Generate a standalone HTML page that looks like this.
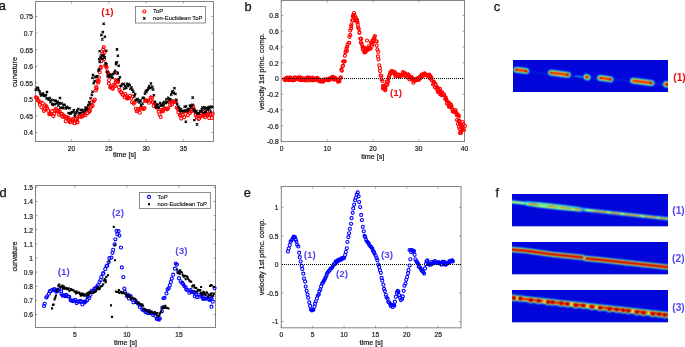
<!DOCTYPE html><html><head><meta charset="utf-8"><style>html,body{margin:0;padding:0;background:#fff;overflow:hidden;}svg{display:block;will-change:transform;}</style></head><body><svg width="685" height="347" viewBox="0 0 685 347">
<defs><filter id="bl" x="-20%" y="-50%" width="140%" height="200%" color-interpolation-filters="sRGB"><feConvolveMatrix order="3" kernelMatrix="1 2 1 2 4 2 1 2 1" divisor="16" edgeMode="duplicate"/></filter><filter id="bl2" x="-20%" y="-50%" width="140%" height="200%"><feGaussianBlur stdDeviation="1.0"/></filter><filter id="bl3" x="-20%" y="-50%" width="140%" height="200%"><feGaussianBlur stdDeviation="0.45"/></filter></defs>
<rect width="685" height="347" fill="#fff"/>
<text x="-1.3" y="10.0" font-size="12.8" fill="#111" stroke="#111" stroke-width="0.25" font-family="&quot;Liberation Sans&quot;, sans-serif">a</text>
<text x="244.4" y="10.6" font-size="12.8" fill="#111" stroke="#111" stroke-width="0.25" font-family="&quot;Liberation Sans&quot;, sans-serif">b</text>
<text x="493.7" y="10.7" font-size="12.8" fill="#111" stroke="#111" stroke-width="0.25" font-family="&quot;Liberation Sans&quot;, sans-serif">c</text>
<text x="-0.6" y="196.9" font-size="12.8" fill="#111" stroke="#111" stroke-width="0.25" font-family="&quot;Liberation Sans&quot;, sans-serif">d</text>
<text x="243.7" y="197.0" font-size="12.8" fill="#111" stroke="#111" stroke-width="0.25" font-family="&quot;Liberation Sans&quot;, sans-serif">e</text>
<text x="495.6" y="196.8" font-size="12.8" fill="#111" stroke="#111" stroke-width="0.25" font-family="&quot;Liberation Sans&quot;, sans-serif">f</text>
<rect x="35.5" y="1.5" width="178.0" height="140.0" fill="none" stroke="#848484" stroke-width="1.0"/>
<line x1="71.5" y1="141.5" x2="71.5" y2="139.5" stroke="#777" stroke-width="0.7"/>
<line x1="71.5" y1="1.5" x2="71.5" y2="3.5" stroke="#777" stroke-width="0.7"/>
<text transform="translate(71.5,150.9) scale(0.09514,0.10571)" font-size="70" text-anchor="middle" fill="#1a1a1a" stroke="#1a1a1a" stroke-width="2.08" font-family="&quot;Liberation Sans&quot;, sans-serif">20</text>
<line x1="108.8" y1="141.5" x2="108.8" y2="139.5" stroke="#777" stroke-width="0.7"/>
<line x1="108.8" y1="1.5" x2="108.8" y2="3.5" stroke="#777" stroke-width="0.7"/>
<text transform="translate(108.8,150.9) scale(0.09514,0.10571)" font-size="70" text-anchor="middle" fill="#1a1a1a" stroke="#1a1a1a" stroke-width="2.08" font-family="&quot;Liberation Sans&quot;, sans-serif">25</text>
<line x1="146.1" y1="141.5" x2="146.1" y2="139.5" stroke="#777" stroke-width="0.7"/>
<line x1="146.1" y1="1.5" x2="146.1" y2="3.5" stroke="#777" stroke-width="0.7"/>
<text transform="translate(146.1,150.9) scale(0.09514,0.10571)" font-size="70" text-anchor="middle" fill="#1a1a1a" stroke="#1a1a1a" stroke-width="2.08" font-family="&quot;Liberation Sans&quot;, sans-serif">30</text>
<line x1="183.4" y1="141.5" x2="183.4" y2="139.5" stroke="#777" stroke-width="0.7"/>
<line x1="183.4" y1="1.5" x2="183.4" y2="3.5" stroke="#777" stroke-width="0.7"/>
<text transform="translate(183.4,150.9) scale(0.09514,0.10571)" font-size="70" text-anchor="middle" fill="#1a1a1a" stroke="#1a1a1a" stroke-width="2.08" font-family="&quot;Liberation Sans&quot;, sans-serif">35</text>
<line x1="35.5" y1="132.48999999999998" x2="37.5" y2="132.48999999999998" stroke="#777" stroke-width="0.7"/>
<line x1="213.5" y1="132.48999999999998" x2="211.5" y2="132.48999999999998" stroke="#777" stroke-width="0.7"/>
<text transform="translate(33.0,135.43999999999997) scale(0.09514,0.10571)" font-size="70" text-anchor="end" fill="#1a1a1a" stroke="#1a1a1a" stroke-width="2.08" font-family="&quot;Liberation Sans&quot;, sans-serif">0.4</text>
<line x1="35.5" y1="115.91999999999999" x2="37.5" y2="115.91999999999999" stroke="#777" stroke-width="0.7"/>
<line x1="213.5" y1="115.91999999999999" x2="211.5" y2="115.91999999999999" stroke="#777" stroke-width="0.7"/>
<text transform="translate(33.0,118.86999999999999) scale(0.09514,0.10571)" font-size="70" text-anchor="end" fill="#1a1a1a" stroke="#1a1a1a" stroke-width="2.08" font-family="&quot;Liberation Sans&quot;, sans-serif">0.45</text>
<line x1="35.5" y1="99.35" x2="37.5" y2="99.35" stroke="#777" stroke-width="0.7"/>
<line x1="213.5" y1="99.35" x2="211.5" y2="99.35" stroke="#777" stroke-width="0.7"/>
<text transform="translate(33.0,102.3) scale(0.09514,0.10571)" font-size="70" text-anchor="end" fill="#1a1a1a" stroke="#1a1a1a" stroke-width="2.08" font-family="&quot;Liberation Sans&quot;, sans-serif">0.5</text>
<line x1="35.5" y1="82.77999999999999" x2="37.5" y2="82.77999999999999" stroke="#777" stroke-width="0.7"/>
<line x1="213.5" y1="82.77999999999999" x2="211.5" y2="82.77999999999999" stroke="#777" stroke-width="0.7"/>
<text transform="translate(33.0,85.72999999999999) scale(0.09514,0.10571)" font-size="70" text-anchor="end" fill="#1a1a1a" stroke="#1a1a1a" stroke-width="2.08" font-family="&quot;Liberation Sans&quot;, sans-serif">0.55</text>
<line x1="35.5" y1="66.21000000000001" x2="37.5" y2="66.21000000000001" stroke="#777" stroke-width="0.7"/>
<line x1="213.5" y1="66.21000000000001" x2="211.5" y2="66.21000000000001" stroke="#777" stroke-width="0.7"/>
<text transform="translate(33.0,69.16000000000001) scale(0.09514,0.10571)" font-size="70" text-anchor="end" fill="#1a1a1a" stroke="#1a1a1a" stroke-width="2.08" font-family="&quot;Liberation Sans&quot;, sans-serif">0.6</text>
<line x1="35.5" y1="49.63999999999999" x2="37.5" y2="49.63999999999999" stroke="#777" stroke-width="0.7"/>
<line x1="213.5" y1="49.63999999999999" x2="211.5" y2="49.63999999999999" stroke="#777" stroke-width="0.7"/>
<text transform="translate(33.0,52.589999999999996) scale(0.09514,0.10571)" font-size="70" text-anchor="end" fill="#1a1a1a" stroke="#1a1a1a" stroke-width="2.08" font-family="&quot;Liberation Sans&quot;, sans-serif">0.65</text>
<line x1="35.5" y1="33.070000000000014" x2="37.5" y2="33.070000000000014" stroke="#777" stroke-width="0.7"/>
<line x1="213.5" y1="33.070000000000014" x2="211.5" y2="33.070000000000014" stroke="#777" stroke-width="0.7"/>
<text transform="translate(33.0,36.02000000000002) scale(0.09514,0.10571)" font-size="70" text-anchor="end" fill="#1a1a1a" stroke="#1a1a1a" stroke-width="2.08" font-family="&quot;Liberation Sans&quot;, sans-serif">0.7</text>
<line x1="35.5" y1="16.5" x2="37.5" y2="16.5" stroke="#777" stroke-width="0.7"/>
<line x1="213.5" y1="16.5" x2="211.5" y2="16.5" stroke="#777" stroke-width="0.7"/>
<text transform="translate(33.0,19.45) scale(0.09514,0.10571)" font-size="70" text-anchor="end" fill="#1a1a1a" stroke="#1a1a1a" stroke-width="2.08" font-family="&quot;Liberation Sans&quot;, sans-serif">0.75</text>
<text x="124.5" y="157.0" font-size="7.2" text-anchor="middle" fill="#1a1a1a" stroke="#1a1a1a" stroke-width="0.22" font-family="&quot;Liberation Sans&quot;, sans-serif">time [s]</text>
<text transform="translate(16.9,72.0) rotate(-90)" x="0" y="0" font-size="7.2" text-anchor="middle" fill="#1a1a1a" stroke="#1a1a1a" stroke-width="0.22" font-family="&quot;Liberation Sans&quot;, sans-serif">curvature</text>
<path d="M34.42,97.43a1.55,1.55 0 1,0 3.1,0a1.55,1.55 0 1,0 -3.1,0M35.65,98.11a1.55,1.55 0 1,0 3.1,0a1.55,1.55 0 1,0 -3.1,0M36.35,100.34a1.55,1.55 0 1,0 3.1,0a1.55,1.55 0 1,0 -3.1,0M37.11,101.16a1.55,1.55 0 1,0 3.1,0a1.55,1.55 0 1,0 -3.1,0M38.33,104.54a1.55,1.55 0 1,0 3.1,0a1.55,1.55 0 1,0 -3.1,0M38.96,102.37a1.55,1.55 0 1,0 3.1,0a1.55,1.55 0 1,0 -3.1,0M39.90,107.37a1.55,1.55 0 1,0 3.1,0a1.55,1.55 0 1,0 -3.1,0M41.22,103.20a1.55,1.55 0 1,0 3.1,0a1.55,1.55 0 1,0 -3.1,0M42.34,110.80a1.55,1.55 0 1,0 3.1,0a1.55,1.55 0 1,0 -3.1,0M43.09,108.99a1.55,1.55 0 1,0 3.1,0a1.55,1.55 0 1,0 -3.1,0M43.74,105.38a1.55,1.55 0 1,0 3.1,0a1.55,1.55 0 1,0 -3.1,0M44.92,106.42a1.55,1.55 0 1,0 3.1,0a1.55,1.55 0 1,0 -3.1,0M45.66,108.44a1.55,1.55 0 1,0 3.1,0a1.55,1.55 0 1,0 -3.1,0M46.52,110.75a1.55,1.55 0 1,0 3.1,0a1.55,1.55 0 1,0 -3.1,0M47.71,114.19a1.55,1.55 0 1,0 3.1,0a1.55,1.55 0 1,0 -3.1,0M48.71,113.45a1.55,1.55 0 1,0 3.1,0a1.55,1.55 0 1,0 -3.1,0M49.65,114.13a1.55,1.55 0 1,0 3.1,0a1.55,1.55 0 1,0 -3.1,0M50.57,111.16a1.55,1.55 0 1,0 3.1,0a1.55,1.55 0 1,0 -3.1,0M51.85,116.12a1.55,1.55 0 1,0 3.1,0a1.55,1.55 0 1,0 -3.1,0M52.70,113.84a1.55,1.55 0 1,0 3.1,0a1.55,1.55 0 1,0 -3.1,0M53.34,110.20a1.55,1.55 0 1,0 3.1,0a1.55,1.55 0 1,0 -3.1,0M54.27,108.84a1.55,1.55 0 1,0 3.1,0a1.55,1.55 0 1,0 -3.1,0M55.51,111.02a1.55,1.55 0 1,0 3.1,0a1.55,1.55 0 1,0 -3.1,0M56.51,110.72a1.55,1.55 0 1,0 3.1,0a1.55,1.55 0 1,0 -3.1,0M57.52,114.70a1.55,1.55 0 1,0 3.1,0a1.55,1.55 0 1,0 -3.1,0M57.90,110.94a1.55,1.55 0 1,0 3.1,0a1.55,1.55 0 1,0 -3.1,0M59.40,113.65a1.55,1.55 0 1,0 3.1,0a1.55,1.55 0 1,0 -3.1,0M60.39,113.96a1.55,1.55 0 1,0 3.1,0a1.55,1.55 0 1,0 -3.1,0M60.79,116.68a1.55,1.55 0 1,0 3.1,0a1.55,1.55 0 1,0 -3.1,0M62.17,115.28a1.55,1.55 0 1,0 3.1,0a1.55,1.55 0 1,0 -3.1,0M62.70,116.92a1.55,1.55 0 1,0 3.1,0a1.55,1.55 0 1,0 -3.1,0M64.18,121.17a1.55,1.55 0 1,0 3.1,0a1.55,1.55 0 1,0 -3.1,0M64.62,118.22a1.55,1.55 0 1,0 3.1,0a1.55,1.55 0 1,0 -3.1,0M65.56,117.00a1.55,1.55 0 1,0 3.1,0a1.55,1.55 0 1,0 -3.1,0M66.93,117.97a1.55,1.55 0 1,0 3.1,0a1.55,1.55 0 1,0 -3.1,0M67.74,120.03a1.55,1.55 0 1,0 3.1,0a1.55,1.55 0 1,0 -3.1,0M68.46,122.19a1.55,1.55 0 1,0 3.1,0a1.55,1.55 0 1,0 -3.1,0M69.38,121.68a1.55,1.55 0 1,0 3.1,0a1.55,1.55 0 1,0 -3.1,0M70.32,120.19a1.55,1.55 0 1,0 3.1,0a1.55,1.55 0 1,0 -3.1,0M71.33,119.22a1.55,1.55 0 1,0 3.1,0a1.55,1.55 0 1,0 -3.1,0M72.73,123.18a1.55,1.55 0 1,0 3.1,0a1.55,1.55 0 1,0 -3.1,0M73.28,123.23a1.55,1.55 0 1,0 3.1,0a1.55,1.55 0 1,0 -3.1,0M74.18,119.15a1.55,1.55 0 1,0 3.1,0a1.55,1.55 0 1,0 -3.1,0M75.51,120.39a1.55,1.55 0 1,0 3.1,0a1.55,1.55 0 1,0 -3.1,0M76.01,122.35a1.55,1.55 0 1,0 3.1,0a1.55,1.55 0 1,0 -3.1,0M77.03,116.55a1.55,1.55 0 1,0 3.1,0a1.55,1.55 0 1,0 -3.1,0M78.31,116.51a1.55,1.55 0 1,0 3.1,0a1.55,1.55 0 1,0 -3.1,0M78.98,114.13a1.55,1.55 0 1,0 3.1,0a1.55,1.55 0 1,0 -3.1,0M79.80,117.00a1.55,1.55 0 1,0 3.1,0a1.55,1.55 0 1,0 -3.1,0M80.85,116.18a1.55,1.55 0 1,0 3.1,0a1.55,1.55 0 1,0 -3.1,0M81.87,114.16a1.55,1.55 0 1,0 3.1,0a1.55,1.55 0 1,0 -3.1,0M83.18,113.43a1.55,1.55 0 1,0 3.1,0a1.55,1.55 0 1,0 -3.1,0M83.89,115.24a1.55,1.55 0 1,0 3.1,0a1.55,1.55 0 1,0 -3.1,0M84.61,109.16a1.55,1.55 0 1,0 3.1,0a1.55,1.55 0 1,0 -3.1,0M86.00,112.99a1.55,1.55 0 1,0 3.1,0a1.55,1.55 0 1,0 -3.1,0M86.55,107.45a1.55,1.55 0 1,0 3.1,0a1.55,1.55 0 1,0 -3.1,0M87.79,111.67a1.55,1.55 0 1,0 3.1,0a1.55,1.55 0 1,0 -3.1,0M88.42,110.55a1.55,1.55 0 1,0 3.1,0a1.55,1.55 0 1,0 -3.1,0M89.78,106.87a1.55,1.55 0 1,0 3.1,0a1.55,1.55 0 1,0 -3.1,0M90.45,102.01a1.55,1.55 0 1,0 3.1,0a1.55,1.55 0 1,0 -3.1,0M91.17,105.66a1.55,1.55 0 1,0 3.1,0a1.55,1.55 0 1,0 -3.1,0M92.24,101.27a1.55,1.55 0 1,0 3.1,0a1.55,1.55 0 1,0 -3.1,0M93.20,99.60a1.55,1.55 0 1,0 3.1,0a1.55,1.55 0 1,0 -3.1,0M94.36,90.41a1.55,1.55 0 1,0 3.1,0a1.55,1.55 0 1,0 -3.1,0M95.06,88.39a1.55,1.55 0 1,0 3.1,0a1.55,1.55 0 1,0 -3.1,0M95.94,81.04a1.55,1.55 0 1,0 3.1,0a1.55,1.55 0 1,0 -3.1,0M97.19,81.04a1.55,1.55 0 1,0 3.1,0a1.55,1.55 0 1,0 -3.1,0M98.17,72.17a1.55,1.55 0 1,0 3.1,0a1.55,1.55 0 1,0 -3.1,0M99.30,66.87a1.55,1.55 0 1,0 3.1,0a1.55,1.55 0 1,0 -3.1,0M99.71,61.23a1.55,1.55 0 1,0 3.1,0a1.55,1.55 0 1,0 -3.1,0M100.92,53.50a1.55,1.55 0 1,0 3.1,0a1.55,1.55 0 1,0 -3.1,0M101.71,49.39a1.55,1.55 0 1,0 3.1,0a1.55,1.55 0 1,0 -3.1,0M102.89,52.75a1.55,1.55 0 1,0 3.1,0a1.55,1.55 0 1,0 -3.1,0M103.72,65.61a1.55,1.55 0 1,0 3.1,0a1.55,1.55 0 1,0 -3.1,0M105.04,67.53a1.55,1.55 0 1,0 3.1,0a1.55,1.55 0 1,0 -3.1,0M105.81,71.77a1.55,1.55 0 1,0 3.1,0a1.55,1.55 0 1,0 -3.1,0M106.43,73.10a1.55,1.55 0 1,0 3.1,0a1.55,1.55 0 1,0 -3.1,0M107.31,83.45a1.55,1.55 0 1,0 3.1,0a1.55,1.55 0 1,0 -3.1,0M108.67,87.43a1.55,1.55 0 1,0 3.1,0a1.55,1.55 0 1,0 -3.1,0M109.21,86.03a1.55,1.55 0 1,0 3.1,0a1.55,1.55 0 1,0 -3.1,0M110.44,87.66a1.55,1.55 0 1,0 3.1,0a1.55,1.55 0 1,0 -3.1,0M111.29,88.84a1.55,1.55 0 1,0 3.1,0a1.55,1.55 0 1,0 -3.1,0M112.10,84.81a1.55,1.55 0 1,0 3.1,0a1.55,1.55 0 1,0 -3.1,0M113.44,85.90a1.55,1.55 0 1,0 3.1,0a1.55,1.55 0 1,0 -3.1,0M114.39,81.83a1.55,1.55 0 1,0 3.1,0a1.55,1.55 0 1,0 -3.1,0M115.38,80.69a1.55,1.55 0 1,0 3.1,0a1.55,1.55 0 1,0 -3.1,0M116.06,81.48a1.55,1.55 0 1,0 3.1,0a1.55,1.55 0 1,0 -3.1,0M117.34,87.10a1.55,1.55 0 1,0 3.1,0a1.55,1.55 0 1,0 -3.1,0M118.00,90.19a1.55,1.55 0 1,0 3.1,0a1.55,1.55 0 1,0 -3.1,0M119.22,91.95a1.55,1.55 0 1,0 3.1,0a1.55,1.55 0 1,0 -3.1,0M120.02,92.38a1.55,1.55 0 1,0 3.1,0a1.55,1.55 0 1,0 -3.1,0M120.95,94.43a1.55,1.55 0 1,0 3.1,0a1.55,1.55 0 1,0 -3.1,0M121.60,95.07a1.55,1.55 0 1,0 3.1,0a1.55,1.55 0 1,0 -3.1,0M123.10,97.22a1.55,1.55 0 1,0 3.1,0a1.55,1.55 0 1,0 -3.1,0M123.89,94.11a1.55,1.55 0 1,0 3.1,0a1.55,1.55 0 1,0 -3.1,0M124.84,96.01a1.55,1.55 0 1,0 3.1,0a1.55,1.55 0 1,0 -3.1,0M125.61,98.41a1.55,1.55 0 1,0 3.1,0a1.55,1.55 0 1,0 -3.1,0M126.35,98.32a1.55,1.55 0 1,0 3.1,0a1.55,1.55 0 1,0 -3.1,0M127.27,97.80a1.55,1.55 0 1,0 3.1,0a1.55,1.55 0 1,0 -3.1,0M128.49,95.85a1.55,1.55 0 1,0 3.1,0a1.55,1.55 0 1,0 -3.1,0M129.57,98.48a1.55,1.55 0 1,0 3.1,0a1.55,1.55 0 1,0 -3.1,0M130.47,102.24a1.55,1.55 0 1,0 3.1,0a1.55,1.55 0 1,0 -3.1,0M131.20,96.41a1.55,1.55 0 1,0 3.1,0a1.55,1.55 0 1,0 -3.1,0M132.18,103.55a1.55,1.55 0 1,0 3.1,0a1.55,1.55 0 1,0 -3.1,0M133.07,102.42a1.55,1.55 0 1,0 3.1,0a1.55,1.55 0 1,0 -3.1,0M134.44,108.49a1.55,1.55 0 1,0 3.1,0a1.55,1.55 0 1,0 -3.1,0M135.12,111.17a1.55,1.55 0 1,0 3.1,0a1.55,1.55 0 1,0 -3.1,0M136.00,110.02a1.55,1.55 0 1,0 3.1,0a1.55,1.55 0 1,0 -3.1,0M136.87,108.80a1.55,1.55 0 1,0 3.1,0a1.55,1.55 0 1,0 -3.1,0M138.18,112.76a1.55,1.55 0 1,0 3.1,0a1.55,1.55 0 1,0 -3.1,0M139.18,108.77a1.55,1.55 0 1,0 3.1,0a1.55,1.55 0 1,0 -3.1,0M139.95,107.52a1.55,1.55 0 1,0 3.1,0a1.55,1.55 0 1,0 -3.1,0M140.63,108.05a1.55,1.55 0 1,0 3.1,0a1.55,1.55 0 1,0 -3.1,0M142.00,109.05a1.55,1.55 0 1,0 3.1,0a1.55,1.55 0 1,0 -3.1,0M142.88,108.15a1.55,1.55 0 1,0 3.1,0a1.55,1.55 0 1,0 -3.1,0M143.57,100.90a1.55,1.55 0 1,0 3.1,0a1.55,1.55 0 1,0 -3.1,0M144.62,100.27a1.55,1.55 0 1,0 3.1,0a1.55,1.55 0 1,0 -3.1,0M145.43,100.72a1.55,1.55 0 1,0 3.1,0a1.55,1.55 0 1,0 -3.1,0M146.63,100.76a1.55,1.55 0 1,0 3.1,0a1.55,1.55 0 1,0 -3.1,0M147.39,102.70a1.55,1.55 0 1,0 3.1,0a1.55,1.55 0 1,0 -3.1,0M148.74,99.94a1.55,1.55 0 1,0 3.1,0a1.55,1.55 0 1,0 -3.1,0M149.14,97.46a1.55,1.55 0 1,0 3.1,0a1.55,1.55 0 1,0 -3.1,0M150.57,98.07a1.55,1.55 0 1,0 3.1,0a1.55,1.55 0 1,0 -3.1,0M151.43,102.42a1.55,1.55 0 1,0 3.1,0a1.55,1.55 0 1,0 -3.1,0M152.14,106.02a1.55,1.55 0 1,0 3.1,0a1.55,1.55 0 1,0 -3.1,0M152.91,103.58a1.55,1.55 0 1,0 3.1,0a1.55,1.55 0 1,0 -3.1,0M154.12,104.84a1.55,1.55 0 1,0 3.1,0a1.55,1.55 0 1,0 -3.1,0M155.30,107.64a1.55,1.55 0 1,0 3.1,0a1.55,1.55 0 1,0 -3.1,0M155.83,107.54a1.55,1.55 0 1,0 3.1,0a1.55,1.55 0 1,0 -3.1,0M157.08,111.68a1.55,1.55 0 1,0 3.1,0a1.55,1.55 0 1,0 -3.1,0M158.03,114.45a1.55,1.55 0 1,0 3.1,0a1.55,1.55 0 1,0 -3.1,0M159.08,116.96a1.55,1.55 0 1,0 3.1,0a1.55,1.55 0 1,0 -3.1,0M159.96,110.79a1.55,1.55 0 1,0 3.1,0a1.55,1.55 0 1,0 -3.1,0M160.79,109.92a1.55,1.55 0 1,0 3.1,0a1.55,1.55 0 1,0 -3.1,0M161.46,111.32a1.55,1.55 0 1,0 3.1,0a1.55,1.55 0 1,0 -3.1,0M162.83,108.40a1.55,1.55 0 1,0 3.1,0a1.55,1.55 0 1,0 -3.1,0M163.51,108.52a1.55,1.55 0 1,0 3.1,0a1.55,1.55 0 1,0 -3.1,0M164.72,108.69a1.55,1.55 0 1,0 3.1,0a1.55,1.55 0 1,0 -3.1,0M165.62,109.30a1.55,1.55 0 1,0 3.1,0a1.55,1.55 0 1,0 -3.1,0M166.44,108.32a1.55,1.55 0 1,0 3.1,0a1.55,1.55 0 1,0 -3.1,0M167.69,101.89a1.55,1.55 0 1,0 3.1,0a1.55,1.55 0 1,0 -3.1,0M168.66,105.10a1.55,1.55 0 1,0 3.1,0a1.55,1.55 0 1,0 -3.1,0M169.13,101.81a1.55,1.55 0 1,0 3.1,0a1.55,1.55 0 1,0 -3.1,0M170.38,104.32a1.55,1.55 0 1,0 3.1,0a1.55,1.55 0 1,0 -3.1,0M171.18,101.16a1.55,1.55 0 1,0 3.1,0a1.55,1.55 0 1,0 -3.1,0M172.43,102.23a1.55,1.55 0 1,0 3.1,0a1.55,1.55 0 1,0 -3.1,0M173.42,101.56a1.55,1.55 0 1,0 3.1,0a1.55,1.55 0 1,0 -3.1,0M174.19,101.42a1.55,1.55 0 1,0 3.1,0a1.55,1.55 0 1,0 -3.1,0M175.18,107.56a1.55,1.55 0 1,0 3.1,0a1.55,1.55 0 1,0 -3.1,0M176.08,108.79a1.55,1.55 0 1,0 3.1,0a1.55,1.55 0 1,0 -3.1,0M176.78,112.21a1.55,1.55 0 1,0 3.1,0a1.55,1.55 0 1,0 -3.1,0M178.19,114.88a1.55,1.55 0 1,0 3.1,0a1.55,1.55 0 1,0 -3.1,0M178.87,115.65a1.55,1.55 0 1,0 3.1,0a1.55,1.55 0 1,0 -3.1,0M179.69,118.62a1.55,1.55 0 1,0 3.1,0a1.55,1.55 0 1,0 -3.1,0M180.96,114.68a1.55,1.55 0 1,0 3.1,0a1.55,1.55 0 1,0 -3.1,0M181.45,115.07a1.55,1.55 0 1,0 3.1,0a1.55,1.55 0 1,0 -3.1,0M182.68,117.16a1.55,1.55 0 1,0 3.1,0a1.55,1.55 0 1,0 -3.1,0M183.59,111.52a1.55,1.55 0 1,0 3.1,0a1.55,1.55 0 1,0 -3.1,0M184.74,111.21a1.55,1.55 0 1,0 3.1,0a1.55,1.55 0 1,0 -3.1,0M185.68,111.44a1.55,1.55 0 1,0 3.1,0a1.55,1.55 0 1,0 -3.1,0M186.35,115.31a1.55,1.55 0 1,0 3.1,0a1.55,1.55 0 1,0 -3.1,0M187.18,109.84a1.55,1.55 0 1,0 3.1,0a1.55,1.55 0 1,0 -3.1,0M188.36,112.88a1.55,1.55 0 1,0 3.1,0a1.55,1.55 0 1,0 -3.1,0M189.50,111.54a1.55,1.55 0 1,0 3.1,0a1.55,1.55 0 1,0 -3.1,0M190.52,109.48a1.55,1.55 0 1,0 3.1,0a1.55,1.55 0 1,0 -3.1,0M191.47,105.99a1.55,1.55 0 1,0 3.1,0a1.55,1.55 0 1,0 -3.1,0M191.98,108.60a1.55,1.55 0 1,0 3.1,0a1.55,1.55 0 1,0 -3.1,0M192.97,111.05a1.55,1.55 0 1,0 3.1,0a1.55,1.55 0 1,0 -3.1,0M194.13,114.91a1.55,1.55 0 1,0 3.1,0a1.55,1.55 0 1,0 -3.1,0M195.21,117.25a1.55,1.55 0 1,0 3.1,0a1.55,1.55 0 1,0 -3.1,0M195.84,115.64a1.55,1.55 0 1,0 3.1,0a1.55,1.55 0 1,0 -3.1,0M197.11,119.07a1.55,1.55 0 1,0 3.1,0a1.55,1.55 0 1,0 -3.1,0M197.67,118.47a1.55,1.55 0 1,0 3.1,0a1.55,1.55 0 1,0 -3.1,0M199.08,115.97a1.55,1.55 0 1,0 3.1,0a1.55,1.55 0 1,0 -3.1,0M199.79,113.50a1.55,1.55 0 1,0 3.1,0a1.55,1.55 0 1,0 -3.1,0M200.72,115.54a1.55,1.55 0 1,0 3.1,0a1.55,1.55 0 1,0 -3.1,0M201.71,111.97a1.55,1.55 0 1,0 3.1,0a1.55,1.55 0 1,0 -3.1,0M202.88,115.35a1.55,1.55 0 1,0 3.1,0a1.55,1.55 0 1,0 -3.1,0M203.49,117.26a1.55,1.55 0 1,0 3.1,0a1.55,1.55 0 1,0 -3.1,0M204.54,114.94a1.55,1.55 0 1,0 3.1,0a1.55,1.55 0 1,0 -3.1,0M205.56,111.87a1.55,1.55 0 1,0 3.1,0a1.55,1.55 0 1,0 -3.1,0M206.42,114.38a1.55,1.55 0 1,0 3.1,0a1.55,1.55 0 1,0 -3.1,0M207.62,118.05a1.55,1.55 0 1,0 3.1,0a1.55,1.55 0 1,0 -3.1,0M208.16,114.81a1.55,1.55 0 1,0 3.1,0a1.55,1.55 0 1,0 -3.1,0M209.03,114.52a1.55,1.55 0 1,0 3.1,0a1.55,1.55 0 1,0 -3.1,0M210.39,117.88a1.55,1.55 0 1,0 3.1,0a1.55,1.55 0 1,0 -3.1,0M211.14,113.68a1.55,1.55 0 1,0 3.1,0a1.55,1.55 0 1,0 -3.1,0M102.15,47.20a1.55,1.55 0 1,0 3.1,0a1.55,1.55 0 1,0 -3.1,0M101.65,56.70a1.55,1.55 0 1,0 3.1,0a1.55,1.55 0 1,0 -3.1,0M102.45,59.30a1.55,1.55 0 1,0 3.1,0a1.55,1.55 0 1,0 -3.1,0M99.05,68.00a1.55,1.55 0 1,0 3.1,0a1.55,1.55 0 1,0 -3.1,0M104.55,66.20a1.55,1.55 0 1,0 3.1,0a1.55,1.55 0 1,0 -3.1,0M97.25,77.50a1.55,1.55 0 1,0 3.1,0a1.55,1.55 0 1,0 -3.1,0M96.45,82.70a1.55,1.55 0 1,0 3.1,0a1.55,1.55 0 1,0 -3.1,0M94.65,87.00a1.55,1.55 0 1,0 3.1,0a1.55,1.55 0 1,0 -3.1,0M115.45,73.00a1.55,1.55 0 1,0 3.1,0a1.55,1.55 0 1,0 -3.1,0M114.45,80.00a1.55,1.55 0 1,0 3.1,0a1.55,1.55 0 1,0 -3.1,0M116.45,82.00a1.55,1.55 0 1,0 3.1,0a1.55,1.55 0 1,0 -3.1,0M106.95,75.00a1.55,1.55 0 1,0 3.1,0a1.55,1.55 0 1,0 -3.1,0M107.45,80.00a1.55,1.55 0 1,0 3.1,0a1.55,1.55 0 1,0 -3.1,0" fill="none" stroke="#ff0000" stroke-width="1.1"/>
<path d="M34.66,88.56l2.3,2.3M34.66,90.86l2.3,-2.3M36.01,86.53l2.3,2.3M36.01,88.83l2.3,-2.3M36.82,86.79l2.3,2.3M36.82,89.09l2.3,-2.3M37.37,88.91l2.3,2.3M37.37,91.21l2.3,-2.3M38.56,90.38l2.3,2.3M38.56,92.68l2.3,-2.3M39.26,92.92l2.3,2.3M39.26,95.22l2.3,-2.3M40.01,94.22l2.3,2.3M40.01,96.52l2.3,-2.3M40.92,93.52l2.3,2.3M40.92,95.82l2.3,-2.3M41.90,92.28l2.3,2.3M41.90,94.58l2.3,-2.3M42.97,94.34l2.3,2.3M42.97,96.64l2.3,-2.3M43.78,94.83l2.3,2.3M43.78,97.13l2.3,-2.3M44.77,93.94l2.3,2.3M44.77,96.24l2.3,-2.3M45.47,97.40l2.3,2.3M45.47,99.70l2.3,-2.3M46.63,97.42l2.3,2.3M46.63,99.72l2.3,-2.3M47.66,98.54l2.3,2.3M47.66,100.84l2.3,-2.3M48.56,96.90l2.3,2.3M48.56,99.20l2.3,-2.3M49.39,100.95l2.3,2.3M49.39,103.25l2.3,-2.3M50.39,98.53l2.3,2.3M50.39,100.83l2.3,-2.3M50.94,102.71l2.3,2.3M50.94,105.01l2.3,-2.3M51.78,103.70l2.3,2.3M51.78,106.00l2.3,-2.3M53.08,99.05l2.3,2.3M53.08,101.35l2.3,-2.3M53.59,103.15l2.3,2.3M53.59,105.45l2.3,-2.3M54.51,99.75l2.3,2.3M54.51,102.05l2.3,-2.3M55.75,102.06l2.3,2.3M55.75,104.36l2.3,-2.3M56.62,100.65l2.3,2.3M56.62,102.95l2.3,-2.3M57.29,104.36l2.3,2.3M57.29,106.66l2.3,-2.3M57.96,101.82l2.3,2.3M57.96,104.12l2.3,-2.3M59.26,106.50l2.3,2.3M59.26,108.80l2.3,-2.3M60.33,102.26l2.3,2.3M60.33,104.56l2.3,-2.3M60.95,106.66l2.3,2.3M60.95,108.96l2.3,-2.3M61.85,106.76l2.3,2.3M61.85,109.06l2.3,-2.3M62.56,103.61l2.3,2.3M62.56,105.91l2.3,-2.3M63.41,103.95l2.3,2.3M63.41,106.25l2.3,-2.3M64.58,107.36l2.3,2.3M64.58,109.66l2.3,-2.3M65.49,105.69l2.3,2.3M65.49,107.99l2.3,-2.3M66.16,106.57l2.3,2.3M66.16,108.87l2.3,-2.3M67.45,111.83l2.3,2.3M67.45,114.13l2.3,-2.3M68.41,107.00l2.3,2.3M68.41,109.30l2.3,-2.3M68.79,112.68l2.3,2.3M68.79,114.98l2.3,-2.3M69.93,112.10l2.3,2.3M69.93,114.40l2.3,-2.3M70.75,110.85l2.3,2.3M70.75,113.15l2.3,-2.3M71.76,111.17l2.3,2.3M71.76,113.47l2.3,-2.3M72.71,109.21l2.3,2.3M72.71,111.51l2.3,-2.3M73.67,114.74l2.3,2.3M73.67,117.04l2.3,-2.3M74.26,112.21l2.3,2.3M74.26,114.51l2.3,-2.3M75.49,111.38l2.3,2.3M75.49,113.68l2.3,-2.3M76.07,109.40l2.3,2.3M76.07,111.70l2.3,-2.3M77.16,107.96l2.3,2.3M77.16,110.26l2.3,-2.3M78.29,112.14l2.3,2.3M78.29,114.44l2.3,-2.3M79.07,111.96l2.3,2.3M79.07,114.26l2.3,-2.3M79.93,108.78l2.3,2.3M79.93,111.08l2.3,-2.3M80.81,108.93l2.3,2.3M80.81,111.23l2.3,-2.3M81.94,110.28l2.3,2.3M81.94,112.58l2.3,-2.3M82.40,110.47l2.3,2.3M82.40,112.77l2.3,-2.3M83.60,109.22l2.3,2.3M83.60,111.52l2.3,-2.3M84.54,106.33l2.3,2.3M84.54,108.63l2.3,-2.3M85.49,108.37l2.3,2.3M85.49,110.67l2.3,-2.3M86.27,106.88l2.3,2.3M86.27,109.18l2.3,-2.3M87.21,103.90l2.3,2.3M87.21,106.20l2.3,-2.3M88.08,101.08l2.3,2.3M88.08,103.38l2.3,-2.3M88.76,102.66l2.3,2.3M88.76,104.96l2.3,-2.3M89.46,97.03l2.3,2.3M89.46,99.33l2.3,-2.3M90.73,93.69l2.3,2.3M90.73,95.99l2.3,-2.3M91.39,90.67l2.3,2.3M91.39,92.97l2.3,-2.3M92.55,82.08l2.3,2.3M92.55,84.38l2.3,-2.3M93.45,79.77l2.3,2.3M93.45,82.07l2.3,-2.3M94.27,75.99l2.3,2.3M94.27,78.29l2.3,-2.3M95.45,75.40l2.3,2.3M95.45,77.70l2.3,-2.3M96.17,75.22l2.3,2.3M96.17,77.52l2.3,-2.3M97.24,69.39l2.3,2.3M97.24,71.69l2.3,-2.3M97.92,68.28l2.3,2.3M97.92,70.58l2.3,-2.3M98.60,60.86l2.3,2.3M98.60,63.16l2.3,-2.3M99.38,57.02l2.3,2.3M99.38,59.32l2.3,-2.3M100.48,54.19l2.3,2.3M100.48,56.49l2.3,-2.3M101.30,57.68l2.3,2.3M101.30,59.98l2.3,-2.3M102.38,54.40l2.3,2.3M102.38,56.70l2.3,-2.3M103.53,56.46l2.3,2.3M103.53,58.76l2.3,-2.3M104.45,61.83l2.3,2.3M104.45,64.13l2.3,-2.3M105.24,63.11l2.3,2.3M105.24,65.41l2.3,-2.3M106.01,70.81l2.3,2.3M106.01,73.11l2.3,-2.3M106.58,75.43l2.3,2.3M106.58,77.73l2.3,-2.3M107.55,74.03l2.3,2.3M107.55,76.33l2.3,-2.3M108.45,75.52l2.3,2.3M108.45,77.82l2.3,-2.3M109.62,73.33l2.3,2.3M109.62,75.63l2.3,-2.3M110.72,75.67l2.3,2.3M110.72,77.97l2.3,-2.3M111.37,76.90l2.3,2.3M111.37,79.20l2.3,-2.3M112.17,72.78l2.3,2.3M112.17,75.08l2.3,-2.3M113.24,71.50l2.3,2.3M113.24,73.80l2.3,-2.3M113.92,69.65l2.3,2.3M113.92,71.95l2.3,-2.3M114.83,63.18l2.3,2.3M114.83,65.48l2.3,-2.3M115.70,61.11l2.3,2.3M115.70,63.41l2.3,-2.3M116.54,71.98l2.3,2.3M116.54,74.28l2.3,-2.3M117.58,78.24l2.3,2.3M117.58,80.54l2.3,-2.3M118.70,76.17l2.3,2.3M118.70,78.47l2.3,-2.3M119.74,84.31l2.3,2.3M119.74,86.61l2.3,-2.3M120.09,84.93l2.3,2.3M120.09,87.23l2.3,-2.3M121.21,83.21l2.3,2.3M121.21,85.51l2.3,-2.3M122.43,82.65l2.3,2.3M122.43,84.95l2.3,-2.3M123.06,87.47l2.3,2.3M123.06,89.77l2.3,-2.3M124.08,84.66l2.3,2.3M124.08,86.96l2.3,-2.3M125.14,86.75l2.3,2.3M125.14,89.05l2.3,-2.3M125.81,82.54l2.3,2.3M125.81,84.84l2.3,-2.3M126.72,84.81l2.3,2.3M126.72,87.11l2.3,-2.3M127.37,82.88l2.3,2.3M127.37,85.18l2.3,-2.3M128.47,83.82l2.3,2.3M128.47,86.12l2.3,-2.3M129.32,87.58l2.3,2.3M129.32,89.88l2.3,-2.3M130.22,86.09l2.3,2.3M130.22,88.39l2.3,-2.3M131.20,88.53l2.3,2.3M131.20,90.83l2.3,-2.3M132.22,90.70l2.3,2.3M132.22,93.00l2.3,-2.3M133.25,95.12l2.3,2.3M133.25,97.42l2.3,-2.3M133.99,92.84l2.3,2.3M133.99,95.14l2.3,-2.3M134.52,98.76l2.3,2.3M134.52,101.06l2.3,-2.3M135.82,99.16l2.3,2.3M135.82,101.46l2.3,-2.3M136.47,97.93l2.3,2.3M136.47,100.23l2.3,-2.3M137.56,100.28l2.3,2.3M137.56,102.58l2.3,-2.3M138.41,101.27l2.3,2.3M138.41,103.57l2.3,-2.3M139.40,99.20l2.3,2.3M139.40,101.50l2.3,-2.3M140.00,104.02l2.3,2.3M140.00,106.32l2.3,-2.3M141.30,102.47l2.3,2.3M141.30,104.77l2.3,-2.3M141.67,96.63l2.3,2.3M141.67,98.93l2.3,-2.3M142.71,96.97l2.3,2.3M142.71,99.27l2.3,-2.3M143.82,92.46l2.3,2.3M143.82,94.76l2.3,-2.3M144.67,89.71l2.3,2.3M144.67,92.01l2.3,-2.3M145.30,90.76l2.3,2.3M145.30,93.06l2.3,-2.3M146.48,88.93l2.3,2.3M146.48,91.23l2.3,-2.3M147.27,86.96l2.3,2.3M147.27,89.26l2.3,-2.3M148.08,85.09l2.3,2.3M148.08,87.39l2.3,-2.3M149.30,87.00l2.3,2.3M149.30,89.30l2.3,-2.3M149.79,82.32l2.3,2.3M149.79,84.62l2.3,-2.3M151.14,85.66l2.3,2.3M151.14,87.96l2.3,-2.3M152.01,88.30l2.3,2.3M152.01,90.60l2.3,-2.3M152.70,94.07l2.3,2.3M152.70,96.37l2.3,-2.3M153.84,100.73l2.3,2.3M153.84,103.03l2.3,-2.3M154.64,106.09l2.3,2.3M154.64,108.39l2.3,-2.3M155.35,103.84l2.3,2.3M155.35,106.14l2.3,-2.3M156.50,106.41l2.3,2.3M156.50,108.71l2.3,-2.3M157.21,103.28l2.3,2.3M157.21,105.58l2.3,-2.3M157.91,106.49l2.3,2.3M157.91,108.79l2.3,-2.3M158.80,101.91l2.3,2.3M158.80,104.21l2.3,-2.3M159.99,104.49l2.3,2.3M159.99,106.79l2.3,-2.3M160.96,103.55l2.3,2.3M160.96,105.85l2.3,-2.3M161.92,101.77l2.3,2.3M161.92,104.07l2.3,-2.3M162.48,104.09l2.3,2.3M162.48,106.39l2.3,-2.3M163.30,100.74l2.3,2.3M163.30,103.04l2.3,-2.3M164.58,101.95l2.3,2.3M164.58,104.25l2.3,-2.3M165.22,98.04l2.3,2.3M165.22,100.34l2.3,-2.3M166.16,100.94l2.3,2.3M166.16,103.24l2.3,-2.3M167.07,96.69l2.3,2.3M167.07,98.99l2.3,-2.3M168.18,97.87l2.3,2.3M168.18,100.17l2.3,-2.3M169.20,98.29l2.3,2.3M169.20,100.59l2.3,-2.3M170.10,93.48l2.3,2.3M170.10,95.78l2.3,-2.3M170.93,91.18l2.3,2.3M170.93,93.48l2.3,-2.3M171.54,90.25l2.3,2.3M171.54,92.55l2.3,-2.3M172.81,91.72l2.3,2.3M172.81,94.02l2.3,-2.3M173.30,87.02l2.3,2.3M173.30,89.32l2.3,-2.3M174.27,92.85l2.3,2.3M174.27,95.15l2.3,-2.3M175.19,98.53l2.3,2.3M175.19,100.83l2.3,-2.3M175.97,102.76l2.3,2.3M175.97,105.06l2.3,-2.3M177.23,105.41l2.3,2.3M177.23,107.71l2.3,-2.3M178.15,106.96l2.3,2.3M178.15,109.26l2.3,-2.3M178.66,109.55l2.3,2.3M178.66,111.85l2.3,-2.3M179.98,108.10l2.3,2.3M179.98,110.40l2.3,-2.3M180.36,110.23l2.3,2.3M180.36,112.53l2.3,-2.3M181.58,109.90l2.3,2.3M181.58,112.20l2.3,-2.3M182.73,109.76l2.3,2.3M182.73,112.06l2.3,-2.3M183.53,105.59l2.3,2.3M183.53,107.89l2.3,-2.3M184.28,109.49l2.3,2.3M184.28,111.79l2.3,-2.3M184.90,105.04l2.3,2.3M184.90,107.34l2.3,-2.3M186.19,109.73l2.3,2.3M186.19,112.03l2.3,-2.3M186.70,107.93l2.3,2.3M186.70,110.23l2.3,-2.3M187.64,108.39l2.3,2.3M187.64,110.69l2.3,-2.3M188.84,104.43l2.3,2.3M188.84,106.73l2.3,-2.3M189.48,106.22l2.3,2.3M189.48,108.52l2.3,-2.3M190.56,104.88l2.3,2.3M190.56,107.18l2.3,-2.3M191.39,103.68l2.3,2.3M191.39,105.98l2.3,-2.3M192.63,108.38l2.3,2.3M192.63,110.68l2.3,-2.3M193.25,109.38l2.3,2.3M193.25,111.68l2.3,-2.3M194.28,111.10l2.3,2.3M194.28,113.40l2.3,-2.3M195.30,110.00l2.3,2.3M195.30,112.30l2.3,-2.3M196.15,112.08l2.3,2.3M196.15,114.38l2.3,-2.3M197.06,112.33l2.3,2.3M197.06,114.63l2.3,-2.3M197.95,112.23l2.3,2.3M197.95,114.53l2.3,-2.3M198.92,110.15l2.3,2.3M198.92,112.45l2.3,-2.3M199.56,110.08l2.3,2.3M199.56,112.38l2.3,-2.3M200.63,108.20l2.3,2.3M200.63,110.50l2.3,-2.3M201.30,106.39l2.3,2.3M201.30,108.69l2.3,-2.3M202.39,111.31l2.3,2.3M202.39,113.61l2.3,-2.3M203.08,106.22l2.3,2.3M203.08,108.52l2.3,-2.3M203.87,107.62l2.3,2.3M203.87,109.92l2.3,-2.3M204.83,110.74l2.3,2.3M204.83,113.04l2.3,-2.3M205.59,106.70l2.3,2.3M205.59,109.00l2.3,-2.3M206.52,108.74l2.3,2.3M206.52,111.04l2.3,-2.3M207.82,105.93l2.3,2.3M207.82,108.23l2.3,-2.3M208.29,107.60l2.3,2.3M208.29,109.90l2.3,-2.3M209.50,110.31l2.3,2.3M209.50,112.61l2.3,-2.3M210.07,105.50l2.3,2.3M210.07,107.80l2.3,-2.3M211.06,106.15l2.3,2.3M211.06,108.45l2.3,-2.3M102.55,22.65l2.3,2.3M102.55,24.95l2.3,-2.3M101.65,30.95l2.3,2.3M101.65,33.25l2.3,-2.3M100.25,33.95l2.3,2.3M100.25,36.25l2.3,-2.3M103.75,35.65l2.3,2.3M103.75,37.95l2.3,-2.3M101.15,38.25l2.3,2.3M101.15,40.55l2.3,-2.3M98.55,50.05l2.3,2.3M98.55,52.35l2.3,-2.3M105.15,49.55l2.3,2.3M105.15,51.85l2.3,-2.3M99.45,55.55l2.3,2.3M99.45,57.85l2.3,-2.3M98.05,58.15l2.3,2.3M98.05,60.45l2.3,-2.3M115.85,48.25l2.3,2.3M115.85,50.55l2.3,-2.3M116.75,54.65l2.3,2.3M116.75,56.95l2.3,-2.3M114.95,61.65l2.3,2.3M114.95,63.95l2.3,-2.3M117.55,64.55l2.3,2.3M117.55,66.85l2.3,-2.3M184.65,120.65l2.3,2.3M184.65,122.95l2.3,-2.3M195.85,123.25l2.3,2.3M195.85,125.55l2.3,-2.3M193.25,118.85l2.3,2.3M193.25,121.15l2.3,-2.3M45.85,90.85l2.3,2.3M45.85,93.15l2.3,-2.3M58.85,96.85l2.3,2.3M58.85,99.15l2.3,-2.3M91.35,76.85l2.3,2.3M91.35,79.15l2.3,-2.3M91.85,73.85l2.3,2.3M91.85,76.15l2.3,-2.3M191.55,96.45l2.3,2.3M191.55,98.75l2.3,-2.3" stroke="#000" stroke-width="1.1" fill="none"/>
<text x="107.4" y="14.8" font-size="9.9" font-weight="bold" text-anchor="middle" fill="#f01010" font-family="&quot;Liberation Sans&quot;, sans-serif">(1)</text>
<rect x="135.5" y="6.5" width="70" height="16.5" fill="#fff" stroke="#707070" stroke-width="0.8"/>
<path d="M142.75,11.50a1.55,1.55 0 1,0 3.1,0a1.55,1.55 0 1,0 -3.1,0" fill="none" stroke="#ff0000" stroke-width="1.1"/>
<path d="M143.15,17.25l2.3,2.3M143.15,19.55l2.3,-2.3" stroke="#000" stroke-width="1.1" fill="none"/>
<text x="153" y="13.2" font-size="5.9" fill="#1a1a1a" stroke="#1a1a1a" stroke-width="0.15" font-family="&quot;Liberation Sans&quot;, sans-serif">ToP</text>
<text x="153" y="20.3" font-size="5.9" fill="#1a1a1a" stroke="#1a1a1a" stroke-width="0.15" font-family="&quot;Liberation Sans&quot;, sans-serif">non-Euclidean ToP</text>
<rect x="281.2" y="0.5" width="183.3" height="141.0" fill="none" stroke="#848484" stroke-width="1.0"/>
<line x1="281.5" y1="141.5" x2="281.5" y2="139.5" stroke="#777" stroke-width="0.7"/>
<line x1="281.5" y1="0.5" x2="281.5" y2="2.5" stroke="#777" stroke-width="0.7"/>
<text transform="translate(281.5,150.9) scale(0.09514,0.10571)" font-size="70" text-anchor="middle" fill="#1a1a1a" stroke="#1a1a1a" stroke-width="2.08" font-family="&quot;Liberation Sans&quot;, sans-serif">0</text>
<line x1="327.25" y1="141.5" x2="327.25" y2="139.5" stroke="#777" stroke-width="0.7"/>
<line x1="327.25" y1="0.5" x2="327.25" y2="2.5" stroke="#777" stroke-width="0.7"/>
<text transform="translate(327.25,150.9) scale(0.09514,0.10571)" font-size="70" text-anchor="middle" fill="#1a1a1a" stroke="#1a1a1a" stroke-width="2.08" font-family="&quot;Liberation Sans&quot;, sans-serif">10</text>
<line x1="373.0" y1="141.5" x2="373.0" y2="139.5" stroke="#777" stroke-width="0.7"/>
<line x1="373.0" y1="0.5" x2="373.0" y2="2.5" stroke="#777" stroke-width="0.7"/>
<text transform="translate(373.0,150.9) scale(0.09514,0.10571)" font-size="70" text-anchor="middle" fill="#1a1a1a" stroke="#1a1a1a" stroke-width="2.08" font-family="&quot;Liberation Sans&quot;, sans-serif">20</text>
<line x1="418.75" y1="141.5" x2="418.75" y2="139.5" stroke="#777" stroke-width="0.7"/>
<line x1="418.75" y1="0.5" x2="418.75" y2="2.5" stroke="#777" stroke-width="0.7"/>
<text transform="translate(418.75,150.9) scale(0.09514,0.10571)" font-size="70" text-anchor="middle" fill="#1a1a1a" stroke="#1a1a1a" stroke-width="2.08" font-family="&quot;Liberation Sans&quot;, sans-serif">30</text>
<line x1="464.5" y1="141.5" x2="464.5" y2="139.5" stroke="#777" stroke-width="0.7"/>
<line x1="464.5" y1="0.5" x2="464.5" y2="2.5" stroke="#777" stroke-width="0.7"/>
<text transform="translate(464.5,150.9) scale(0.09514,0.10571)" font-size="70" text-anchor="middle" fill="#1a1a1a" stroke="#1a1a1a" stroke-width="2.08" font-family="&quot;Liberation Sans&quot;, sans-serif">40</text>
<line x1="281.2" y1="141.5" x2="283.2" y2="141.5" stroke="#777" stroke-width="0.7"/>
<line x1="464.5" y1="141.5" x2="462.5" y2="141.5" stroke="#777" stroke-width="0.7"/>
<text transform="translate(278.6,144.45) scale(0.09514,0.10571)" font-size="70" text-anchor="end" fill="#1a1a1a" stroke="#1a1a1a" stroke-width="2.08" font-family="&quot;Liberation Sans&quot;, sans-serif">-0.8</text>
<line x1="281.2" y1="125.75" x2="283.2" y2="125.75" stroke="#777" stroke-width="0.7"/>
<line x1="464.5" y1="125.75" x2="462.5" y2="125.75" stroke="#777" stroke-width="0.7"/>
<text transform="translate(278.6,128.7) scale(0.09514,0.10571)" font-size="70" text-anchor="end" fill="#1a1a1a" stroke="#1a1a1a" stroke-width="2.08" font-family="&quot;Liberation Sans&quot;, sans-serif">-0.6</text>
<line x1="281.2" y1="110.0" x2="283.2" y2="110.0" stroke="#777" stroke-width="0.7"/>
<line x1="464.5" y1="110.0" x2="462.5" y2="110.0" stroke="#777" stroke-width="0.7"/>
<text transform="translate(278.6,112.95) scale(0.09514,0.10571)" font-size="70" text-anchor="end" fill="#1a1a1a" stroke="#1a1a1a" stroke-width="2.08" font-family="&quot;Liberation Sans&quot;, sans-serif">-0.4</text>
<line x1="281.2" y1="94.25" x2="283.2" y2="94.25" stroke="#777" stroke-width="0.7"/>
<line x1="464.5" y1="94.25" x2="462.5" y2="94.25" stroke="#777" stroke-width="0.7"/>
<text transform="translate(278.6,97.2) scale(0.09514,0.10571)" font-size="70" text-anchor="end" fill="#1a1a1a" stroke="#1a1a1a" stroke-width="2.08" font-family="&quot;Liberation Sans&quot;, sans-serif">-0.2</text>
<line x1="281.2" y1="78.5" x2="283.2" y2="78.5" stroke="#777" stroke-width="0.7"/>
<line x1="464.5" y1="78.5" x2="462.5" y2="78.5" stroke="#777" stroke-width="0.7"/>
<text transform="translate(278.6,81.45) scale(0.09514,0.10571)" font-size="70" text-anchor="end" fill="#1a1a1a" stroke="#1a1a1a" stroke-width="2.08" font-family="&quot;Liberation Sans&quot;, sans-serif">0</text>
<line x1="281.2" y1="62.75" x2="283.2" y2="62.75" stroke="#777" stroke-width="0.7"/>
<line x1="464.5" y1="62.75" x2="462.5" y2="62.75" stroke="#777" stroke-width="0.7"/>
<text transform="translate(278.6,65.7) scale(0.09514,0.10571)" font-size="70" text-anchor="end" fill="#1a1a1a" stroke="#1a1a1a" stroke-width="2.08" font-family="&quot;Liberation Sans&quot;, sans-serif">0.2</text>
<line x1="281.2" y1="47.0" x2="283.2" y2="47.0" stroke="#777" stroke-width="0.7"/>
<line x1="464.5" y1="47.0" x2="462.5" y2="47.0" stroke="#777" stroke-width="0.7"/>
<text transform="translate(278.6,49.95) scale(0.09514,0.10571)" font-size="70" text-anchor="end" fill="#1a1a1a" stroke="#1a1a1a" stroke-width="2.08" font-family="&quot;Liberation Sans&quot;, sans-serif">0.4</text>
<line x1="281.2" y1="31.25" x2="283.2" y2="31.25" stroke="#777" stroke-width="0.7"/>
<line x1="464.5" y1="31.25" x2="462.5" y2="31.25" stroke="#777" stroke-width="0.7"/>
<text transform="translate(278.6,34.2) scale(0.09514,0.10571)" font-size="70" text-anchor="end" fill="#1a1a1a" stroke="#1a1a1a" stroke-width="2.08" font-family="&quot;Liberation Sans&quot;, sans-serif">0.6</text>
<line x1="281.2" y1="15.5" x2="283.2" y2="15.5" stroke="#777" stroke-width="0.7"/>
<line x1="464.5" y1="15.5" x2="462.5" y2="15.5" stroke="#777" stroke-width="0.7"/>
<text transform="translate(278.6,18.45) scale(0.09514,0.10571)" font-size="70" text-anchor="end" fill="#1a1a1a" stroke="#1a1a1a" stroke-width="2.08" font-family="&quot;Liberation Sans&quot;, sans-serif">0.8</text>
<text x="372.8" y="159.3" font-size="7.2" text-anchor="middle" fill="#1a1a1a" stroke="#1a1a1a" stroke-width="0.22" font-family="&quot;Liberation Sans&quot;, sans-serif">time [s]</text>
<text transform="translate(263.6,71.7) rotate(-90)" x="0" y="0" font-size="7.2" text-anchor="middle" fill="#1a1a1a" stroke="#1a1a1a" stroke-width="0.22" font-family="&quot;Liberation Sans&quot;, sans-serif">velocity 1st princ. comp.</text>
<path d="M282.86,79.47a1.55,1.55 0 1,0 3.1,0a1.55,1.55 0 1,0 -3.1,0M283.52,80.12a1.55,1.55 0 1,0 3.1,0a1.55,1.55 0 1,0 -3.1,0M283.97,80.06a1.55,1.55 0 1,0 3.1,0a1.55,1.55 0 1,0 -3.1,0M283.83,78.60a1.55,1.55 0 1,0 3.1,0a1.55,1.55 0 1,0 -3.1,0M285.15,79.19a1.55,1.55 0 1,0 3.1,0a1.55,1.55 0 1,0 -3.1,0M285.61,77.48a1.55,1.55 0 1,0 3.1,0a1.55,1.55 0 1,0 -3.1,0M285.72,77.91a1.55,1.55 0 1,0 3.1,0a1.55,1.55 0 1,0 -3.1,0M286.29,78.96a1.55,1.55 0 1,0 3.1,0a1.55,1.55 0 1,0 -3.1,0M286.31,77.82a1.55,1.55 0 1,0 3.1,0a1.55,1.55 0 1,0 -3.1,0M287.05,80.06a1.55,1.55 0 1,0 3.1,0a1.55,1.55 0 1,0 -3.1,0M287.99,77.64a1.55,1.55 0 1,0 3.1,0a1.55,1.55 0 1,0 -3.1,0M288.52,77.58a1.55,1.55 0 1,0 3.1,0a1.55,1.55 0 1,0 -3.1,0M288.86,77.54a1.55,1.55 0 1,0 3.1,0a1.55,1.55 0 1,0 -3.1,0M288.80,79.93a1.55,1.55 0 1,0 3.1,0a1.55,1.55 0 1,0 -3.1,0M289.49,77.83a1.55,1.55 0 1,0 3.1,0a1.55,1.55 0 1,0 -3.1,0M290.68,79.94a1.55,1.55 0 1,0 3.1,0a1.55,1.55 0 1,0 -3.1,0M290.56,80.23a1.55,1.55 0 1,0 3.1,0a1.55,1.55 0 1,0 -3.1,0M291.29,79.32a1.55,1.55 0 1,0 3.1,0a1.55,1.55 0 1,0 -3.1,0M291.48,80.17a1.55,1.55 0 1,0 3.1,0a1.55,1.55 0 1,0 -3.1,0M292.42,80.25a1.55,1.55 0 1,0 3.1,0a1.55,1.55 0 1,0 -3.1,0M293.10,78.12a1.55,1.55 0 1,0 3.1,0a1.55,1.55 0 1,0 -3.1,0M293.13,77.70a1.55,1.55 0 1,0 3.1,0a1.55,1.55 0 1,0 -3.1,0M293.43,77.38a1.55,1.55 0 1,0 3.1,0a1.55,1.55 0 1,0 -3.1,0M294.07,79.10a1.55,1.55 0 1,0 3.1,0a1.55,1.55 0 1,0 -3.1,0M294.30,79.35a1.55,1.55 0 1,0 3.1,0a1.55,1.55 0 1,0 -3.1,0M295.10,78.17a1.55,1.55 0 1,0 3.1,0a1.55,1.55 0 1,0 -3.1,0M296.04,78.72a1.55,1.55 0 1,0 3.1,0a1.55,1.55 0 1,0 -3.1,0M296.08,78.73a1.55,1.55 0 1,0 3.1,0a1.55,1.55 0 1,0 -3.1,0M296.93,77.37a1.55,1.55 0 1,0 3.1,0a1.55,1.55 0 1,0 -3.1,0M297.68,77.27a1.55,1.55 0 1,0 3.1,0a1.55,1.55 0 1,0 -3.1,0M297.97,79.90a1.55,1.55 0 1,0 3.1,0a1.55,1.55 0 1,0 -3.1,0M297.82,79.72a1.55,1.55 0 1,0 3.1,0a1.55,1.55 0 1,0 -3.1,0M298.63,79.05a1.55,1.55 0 1,0 3.1,0a1.55,1.55 0 1,0 -3.1,0M298.81,77.35a1.55,1.55 0 1,0 3.1,0a1.55,1.55 0 1,0 -3.1,0M299.46,80.26a1.55,1.55 0 1,0 3.1,0a1.55,1.55 0 1,0 -3.1,0M299.98,79.63a1.55,1.55 0 1,0 3.1,0a1.55,1.55 0 1,0 -3.1,0M301.14,80.23a1.55,1.55 0 1,0 3.1,0a1.55,1.55 0 1,0 -3.1,0M301.11,78.35a1.55,1.55 0 1,0 3.1,0a1.55,1.55 0 1,0 -3.1,0M301.77,79.70a1.55,1.55 0 1,0 3.1,0a1.55,1.55 0 1,0 -3.1,0M301.90,79.62a1.55,1.55 0 1,0 3.1,0a1.55,1.55 0 1,0 -3.1,0M303.02,79.97a1.55,1.55 0 1,0 3.1,0a1.55,1.55 0 1,0 -3.1,0M302.83,80.25a1.55,1.55 0 1,0 3.1,0a1.55,1.55 0 1,0 -3.1,0M303.38,78.32a1.55,1.55 0 1,0 3.1,0a1.55,1.55 0 1,0 -3.1,0M304.35,80.17a1.55,1.55 0 1,0 3.1,0a1.55,1.55 0 1,0 -3.1,0M304.61,80.19a1.55,1.55 0 1,0 3.1,0a1.55,1.55 0 1,0 -3.1,0M305.29,78.24a1.55,1.55 0 1,0 3.1,0a1.55,1.55 0 1,0 -3.1,0M305.59,77.81a1.55,1.55 0 1,0 3.1,0a1.55,1.55 0 1,0 -3.1,0M305.87,77.72a1.55,1.55 0 1,0 3.1,0a1.55,1.55 0 1,0 -3.1,0M306.92,80.44a1.55,1.55 0 1,0 3.1,0a1.55,1.55 0 1,0 -3.1,0M306.95,77.40a1.55,1.55 0 1,0 3.1,0a1.55,1.55 0 1,0 -3.1,0M308.19,78.96a1.55,1.55 0 1,0 3.1,0a1.55,1.55 0 1,0 -3.1,0M308.17,78.01a1.55,1.55 0 1,0 3.1,0a1.55,1.55 0 1,0 -3.1,0M308.83,79.90a1.55,1.55 0 1,0 3.1,0a1.55,1.55 0 1,0 -3.1,0M309.21,78.61a1.55,1.55 0 1,0 3.1,0a1.55,1.55 0 1,0 -3.1,0M309.35,80.19a1.55,1.55 0 1,0 3.1,0a1.55,1.55 0 1,0 -3.1,0M309.83,78.84a1.55,1.55 0 1,0 3.1,0a1.55,1.55 0 1,0 -3.1,0M311.05,77.69a1.55,1.55 0 1,0 3.1,0a1.55,1.55 0 1,0 -3.1,0M311.46,80.31a1.55,1.55 0 1,0 3.1,0a1.55,1.55 0 1,0 -3.1,0M311.87,79.80a1.55,1.55 0 1,0 3.1,0a1.55,1.55 0 1,0 -3.1,0M311.90,78.67a1.55,1.55 0 1,0 3.1,0a1.55,1.55 0 1,0 -3.1,0M312.43,79.98a1.55,1.55 0 1,0 3.1,0a1.55,1.55 0 1,0 -3.1,0M313.07,78.73a1.55,1.55 0 1,0 3.1,0a1.55,1.55 0 1,0 -3.1,0M314.20,80.01a1.55,1.55 0 1,0 3.1,0a1.55,1.55 0 1,0 -3.1,0M314.68,78.74a1.55,1.55 0 1,0 3.1,0a1.55,1.55 0 1,0 -3.1,0M314.74,79.62a1.55,1.55 0 1,0 3.1,0a1.55,1.55 0 1,0 -3.1,0M315.23,78.22a1.55,1.55 0 1,0 3.1,0a1.55,1.55 0 1,0 -3.1,0M315.66,77.76a1.55,1.55 0 1,0 3.1,0a1.55,1.55 0 1,0 -3.1,0M316.14,80.46a1.55,1.55 0 1,0 3.1,0a1.55,1.55 0 1,0 -3.1,0M317.16,79.55a1.55,1.55 0 1,0 3.1,0a1.55,1.55 0 1,0 -3.1,0M317.25,79.02a1.55,1.55 0 1,0 3.1,0a1.55,1.55 0 1,0 -3.1,0M317.38,79.21a1.55,1.55 0 1,0 3.1,0a1.55,1.55 0 1,0 -3.1,0M318.50,81.52a1.55,1.55 0 1,0 3.1,0a1.55,1.55 0 1,0 -3.1,0M318.63,81.42a1.55,1.55 0 1,0 3.1,0a1.55,1.55 0 1,0 -3.1,0M319.50,81.12a1.55,1.55 0 1,0 3.1,0a1.55,1.55 0 1,0 -3.1,0M319.90,81.33a1.55,1.55 0 1,0 3.1,0a1.55,1.55 0 1,0 -3.1,0M320.13,81.15a1.55,1.55 0 1,0 3.1,0a1.55,1.55 0 1,0 -3.1,0M320.55,80.45a1.55,1.55 0 1,0 3.1,0a1.55,1.55 0 1,0 -3.1,0M321.49,81.11a1.55,1.55 0 1,0 3.1,0a1.55,1.55 0 1,0 -3.1,0M321.56,81.69a1.55,1.55 0 1,0 3.1,0a1.55,1.55 0 1,0 -3.1,0M322.38,80.12a1.55,1.55 0 1,0 3.1,0a1.55,1.55 0 1,0 -3.1,0M322.31,79.61a1.55,1.55 0 1,0 3.1,0a1.55,1.55 0 1,0 -3.1,0M323.03,79.61a1.55,1.55 0 1,0 3.1,0a1.55,1.55 0 1,0 -3.1,0M323.72,79.90a1.55,1.55 0 1,0 3.1,0a1.55,1.55 0 1,0 -3.1,0M324.38,79.81a1.55,1.55 0 1,0 3.1,0a1.55,1.55 0 1,0 -3.1,0M324.61,79.30a1.55,1.55 0 1,0 3.1,0a1.55,1.55 0 1,0 -3.1,0M325.46,79.86a1.55,1.55 0 1,0 3.1,0a1.55,1.55 0 1,0 -3.1,0M325.62,79.88a1.55,1.55 0 1,0 3.1,0a1.55,1.55 0 1,0 -3.1,0M326.58,79.36a1.55,1.55 0 1,0 3.1,0a1.55,1.55 0 1,0 -3.1,0M327.18,80.20a1.55,1.55 0 1,0 3.1,0a1.55,1.55 0 1,0 -3.1,0M327.27,78.80a1.55,1.55 0 1,0 3.1,0a1.55,1.55 0 1,0 -3.1,0M327.45,79.76a1.55,1.55 0 1,0 3.1,0a1.55,1.55 0 1,0 -3.1,0M328.64,78.59a1.55,1.55 0 1,0 3.1,0a1.55,1.55 0 1,0 -3.1,0M328.92,79.34a1.55,1.55 0 1,0 3.1,0a1.55,1.55 0 1,0 -3.1,0M329.46,77.56a1.55,1.55 0 1,0 3.1,0a1.55,1.55 0 1,0 -3.1,0M330.00,78.54a1.55,1.55 0 1,0 3.1,0a1.55,1.55 0 1,0 -3.1,0M330.40,77.49a1.55,1.55 0 1,0 3.1,0a1.55,1.55 0 1,0 -3.1,0M330.86,78.09a1.55,1.55 0 1,0 3.1,0a1.55,1.55 0 1,0 -3.1,0M331.37,78.09a1.55,1.55 0 1,0 3.1,0a1.55,1.55 0 1,0 -3.1,0M331.32,76.93a1.55,1.55 0 1,0 3.1,0a1.55,1.55 0 1,0 -3.1,0M332.20,79.13a1.55,1.55 0 1,0 3.1,0a1.55,1.55 0 1,0 -3.1,0M332.50,79.69a1.55,1.55 0 1,0 3.1,0a1.55,1.55 0 1,0 -3.1,0M333.37,77.95a1.55,1.55 0 1,0 3.1,0a1.55,1.55 0 1,0 -3.1,0M333.72,78.86a1.55,1.55 0 1,0 3.1,0a1.55,1.55 0 1,0 -3.1,0M333.85,78.88a1.55,1.55 0 1,0 3.1,0a1.55,1.55 0 1,0 -3.1,0M334.59,79.35a1.55,1.55 0 1,0 3.1,0a1.55,1.55 0 1,0 -3.1,0M334.97,79.00a1.55,1.55 0 1,0 3.1,0a1.55,1.55 0 1,0 -3.1,0M335.72,80.07a1.55,1.55 0 1,0 3.1,0a1.55,1.55 0 1,0 -3.1,0M336.35,80.71a1.55,1.55 0 1,0 3.1,0a1.55,1.55 0 1,0 -3.1,0M336.51,81.69a1.55,1.55 0 1,0 3.1,0a1.55,1.55 0 1,0 -3.1,0M336.80,80.07a1.55,1.55 0 1,0 3.1,0a1.55,1.55 0 1,0 -3.1,0M337.55,80.05a1.55,1.55 0 1,0 3.1,0a1.55,1.55 0 1,0 -3.1,0M337.90,81.37a1.55,1.55 0 1,0 3.1,0a1.55,1.55 0 1,0 -3.1,0M338.64,78.22a1.55,1.55 0 1,0 3.1,0a1.55,1.55 0 1,0 -3.1,0M339.35,77.40a1.55,1.55 0 1,0 3.1,0a1.55,1.55 0 1,0 -3.1,0M339.79,69.66a1.55,1.55 0 1,0 3.1,0a1.55,1.55 0 1,0 -3.1,0M340.32,70.70a1.55,1.55 0 1,0 3.1,0a1.55,1.55 0 1,0 -3.1,0M341.04,66.18a1.55,1.55 0 1,0 3.1,0a1.55,1.55 0 1,0 -3.1,0M341.53,65.63a1.55,1.55 0 1,0 3.1,0a1.55,1.55 0 1,0 -3.1,0M341.63,61.32a1.55,1.55 0 1,0 3.1,0a1.55,1.55 0 1,0 -3.1,0M342.34,61.46a1.55,1.55 0 1,0 3.1,0a1.55,1.55 0 1,0 -3.1,0M343.16,61.28a1.55,1.55 0 1,0 3.1,0a1.55,1.55 0 1,0 -3.1,0M343.35,55.79a1.55,1.55 0 1,0 3.1,0a1.55,1.55 0 1,0 -3.1,0M344.10,51.69a1.55,1.55 0 1,0 3.1,0a1.55,1.55 0 1,0 -3.1,0M343.90,52.34a1.55,1.55 0 1,0 3.1,0a1.55,1.55 0 1,0 -3.1,0M344.85,48.54a1.55,1.55 0 1,0 3.1,0a1.55,1.55 0 1,0 -3.1,0M345.37,50.85a1.55,1.55 0 1,0 3.1,0a1.55,1.55 0 1,0 -3.1,0M345.64,46.87a1.55,1.55 0 1,0 3.1,0a1.55,1.55 0 1,0 -3.1,0M346.00,44.55a1.55,1.55 0 1,0 3.1,0a1.55,1.55 0 1,0 -3.1,0M347.18,42.77a1.55,1.55 0 1,0 3.1,0a1.55,1.55 0 1,0 -3.1,0M347.67,42.88a1.55,1.55 0 1,0 3.1,0a1.55,1.55 0 1,0 -3.1,0M347.84,36.82a1.55,1.55 0 1,0 3.1,0a1.55,1.55 0 1,0 -3.1,0M348.68,34.88a1.55,1.55 0 1,0 3.1,0a1.55,1.55 0 1,0 -3.1,0M348.67,30.46a1.55,1.55 0 1,0 3.1,0a1.55,1.55 0 1,0 -3.1,0M349.69,28.56a1.55,1.55 0 1,0 3.1,0a1.55,1.55 0 1,0 -3.1,0M349.56,26.15a1.55,1.55 0 1,0 3.1,0a1.55,1.55 0 1,0 -3.1,0M349.91,24.57a1.55,1.55 0 1,0 3.1,0a1.55,1.55 0 1,0 -3.1,0M350.70,20.32a1.55,1.55 0 1,0 3.1,0a1.55,1.55 0 1,0 -3.1,0M351.50,20.43a1.55,1.55 0 1,0 3.1,0a1.55,1.55 0 1,0 -3.1,0M351.31,16.24a1.55,1.55 0 1,0 3.1,0a1.55,1.55 0 1,0 -3.1,0M352.05,17.86a1.55,1.55 0 1,0 3.1,0a1.55,1.55 0 1,0 -3.1,0M353.00,15.28a1.55,1.55 0 1,0 3.1,0a1.55,1.55 0 1,0 -3.1,0M353.04,15.80a1.55,1.55 0 1,0 3.1,0a1.55,1.55 0 1,0 -3.1,0M354.19,17.52a1.55,1.55 0 1,0 3.1,0a1.55,1.55 0 1,0 -3.1,0M354.35,19.47a1.55,1.55 0 1,0 3.1,0a1.55,1.55 0 1,0 -3.1,0M354.88,21.14a1.55,1.55 0 1,0 3.1,0a1.55,1.55 0 1,0 -3.1,0M355.47,19.91a1.55,1.55 0 1,0 3.1,0a1.55,1.55 0 1,0 -3.1,0M355.98,22.36a1.55,1.55 0 1,0 3.1,0a1.55,1.55 0 1,0 -3.1,0M356.28,24.40a1.55,1.55 0 1,0 3.1,0a1.55,1.55 0 1,0 -3.1,0M356.57,27.49a1.55,1.55 0 1,0 3.1,0a1.55,1.55 0 1,0 -3.1,0M357.22,28.74a1.55,1.55 0 1,0 3.1,0a1.55,1.55 0 1,0 -3.1,0M357.97,32.24a1.55,1.55 0 1,0 3.1,0a1.55,1.55 0 1,0 -3.1,0M357.83,32.79a1.55,1.55 0 1,0 3.1,0a1.55,1.55 0 1,0 -3.1,0M358.71,38.52a1.55,1.55 0 1,0 3.1,0a1.55,1.55 0 1,0 -3.1,0M359.60,38.84a1.55,1.55 0 1,0 3.1,0a1.55,1.55 0 1,0 -3.1,0M359.31,42.45a1.55,1.55 0 1,0 3.1,0a1.55,1.55 0 1,0 -3.1,0M360.18,43.89a1.55,1.55 0 1,0 3.1,0a1.55,1.55 0 1,0 -3.1,0M360.94,46.69a1.55,1.55 0 1,0 3.1,0a1.55,1.55 0 1,0 -3.1,0M361.23,49.62a1.55,1.55 0 1,0 3.1,0a1.55,1.55 0 1,0 -3.1,0M361.65,47.72a1.55,1.55 0 1,0 3.1,0a1.55,1.55 0 1,0 -3.1,0M362.57,47.50a1.55,1.55 0 1,0 3.1,0a1.55,1.55 0 1,0 -3.1,0M362.57,51.60a1.55,1.55 0 1,0 3.1,0a1.55,1.55 0 1,0 -3.1,0M362.86,52.43a1.55,1.55 0 1,0 3.1,0a1.55,1.55 0 1,0 -3.1,0M363.93,50.50a1.55,1.55 0 1,0 3.1,0a1.55,1.55 0 1,0 -3.1,0M364.06,52.06a1.55,1.55 0 1,0 3.1,0a1.55,1.55 0 1,0 -3.1,0M365.12,48.49a1.55,1.55 0 1,0 3.1,0a1.55,1.55 0 1,0 -3.1,0M365.23,50.36a1.55,1.55 0 1,0 3.1,0a1.55,1.55 0 1,0 -3.1,0M365.75,48.77a1.55,1.55 0 1,0 3.1,0a1.55,1.55 0 1,0 -3.1,0M365.94,49.52a1.55,1.55 0 1,0 3.1,0a1.55,1.55 0 1,0 -3.1,0M367.03,46.26a1.55,1.55 0 1,0 3.1,0a1.55,1.55 0 1,0 -3.1,0M367.01,49.58a1.55,1.55 0 1,0 3.1,0a1.55,1.55 0 1,0 -3.1,0M368.01,48.20a1.55,1.55 0 1,0 3.1,0a1.55,1.55 0 1,0 -3.1,0M367.82,47.82a1.55,1.55 0 1,0 3.1,0a1.55,1.55 0 1,0 -3.1,0M369.18,48.42a1.55,1.55 0 1,0 3.1,0a1.55,1.55 0 1,0 -3.1,0M369.43,42.65a1.55,1.55 0 1,0 3.1,0a1.55,1.55 0 1,0 -3.1,0M370.06,42.71a1.55,1.55 0 1,0 3.1,0a1.55,1.55 0 1,0 -3.1,0M370.38,45.69a1.55,1.55 0 1,0 3.1,0a1.55,1.55 0 1,0 -3.1,0M370.94,40.60a1.55,1.55 0 1,0 3.1,0a1.55,1.55 0 1,0 -3.1,0M371.06,43.90a1.55,1.55 0 1,0 3.1,0a1.55,1.55 0 1,0 -3.1,0M371.43,41.61a1.55,1.55 0 1,0 3.1,0a1.55,1.55 0 1,0 -3.1,0M372.17,38.58a1.55,1.55 0 1,0 3.1,0a1.55,1.55 0 1,0 -3.1,0M372.86,37.28a1.55,1.55 0 1,0 3.1,0a1.55,1.55 0 1,0 -3.1,0M372.90,38.34a1.55,1.55 0 1,0 3.1,0a1.55,1.55 0 1,0 -3.1,0M373.36,35.98a1.55,1.55 0 1,0 3.1,0a1.55,1.55 0 1,0 -3.1,0M374.32,41.22a1.55,1.55 0 1,0 3.1,0a1.55,1.55 0 1,0 -3.1,0M375.09,41.33a1.55,1.55 0 1,0 3.1,0a1.55,1.55 0 1,0 -3.1,0M375.19,45.53a1.55,1.55 0 1,0 3.1,0a1.55,1.55 0 1,0 -3.1,0M375.84,49.49a1.55,1.55 0 1,0 3.1,0a1.55,1.55 0 1,0 -3.1,0M376.64,51.80a1.55,1.55 0 1,0 3.1,0a1.55,1.55 0 1,0 -3.1,0M376.35,56.40a1.55,1.55 0 1,0 3.1,0a1.55,1.55 0 1,0 -3.1,0M376.94,59.28a1.55,1.55 0 1,0 3.1,0a1.55,1.55 0 1,0 -3.1,0M377.76,65.23a1.55,1.55 0 1,0 3.1,0a1.55,1.55 0 1,0 -3.1,0M378.30,68.02a1.55,1.55 0 1,0 3.1,0a1.55,1.55 0 1,0 -3.1,0M378.54,71.09a1.55,1.55 0 1,0 3.1,0a1.55,1.55 0 1,0 -3.1,0M379.03,75.57a1.55,1.55 0 1,0 3.1,0a1.55,1.55 0 1,0 -3.1,0M379.77,75.80a1.55,1.55 0 1,0 3.1,0a1.55,1.55 0 1,0 -3.1,0M380.01,79.49a1.55,1.55 0 1,0 3.1,0a1.55,1.55 0 1,0 -3.1,0M380.96,80.95a1.55,1.55 0 1,0 3.1,0a1.55,1.55 0 1,0 -3.1,0M381.44,85.88a1.55,1.55 0 1,0 3.1,0a1.55,1.55 0 1,0 -3.1,0M381.38,88.40a1.55,1.55 0 1,0 3.1,0a1.55,1.55 0 1,0 -3.1,0M381.88,87.19a1.55,1.55 0 1,0 3.1,0a1.55,1.55 0 1,0 -3.1,0M382.83,88.51a1.55,1.55 0 1,0 3.1,0a1.55,1.55 0 1,0 -3.1,0M383.59,89.78a1.55,1.55 0 1,0 3.1,0a1.55,1.55 0 1,0 -3.1,0M383.59,90.17a1.55,1.55 0 1,0 3.1,0a1.55,1.55 0 1,0 -3.1,0M383.83,88.31a1.55,1.55 0 1,0 3.1,0a1.55,1.55 0 1,0 -3.1,0M384.35,84.54a1.55,1.55 0 1,0 3.1,0a1.55,1.55 0 1,0 -3.1,0M385.66,84.96a1.55,1.55 0 1,0 3.1,0a1.55,1.55 0 1,0 -3.1,0M385.50,81.24a1.55,1.55 0 1,0 3.1,0a1.55,1.55 0 1,0 -3.1,0M386.68,81.80a1.55,1.55 0 1,0 3.1,0a1.55,1.55 0 1,0 -3.1,0M387.04,78.28a1.55,1.55 0 1,0 3.1,0a1.55,1.55 0 1,0 -3.1,0M387.36,77.58a1.55,1.55 0 1,0 3.1,0a1.55,1.55 0 1,0 -3.1,0M387.51,75.98a1.55,1.55 0 1,0 3.1,0a1.55,1.55 0 1,0 -3.1,0M388.35,74.64a1.55,1.55 0 1,0 3.1,0a1.55,1.55 0 1,0 -3.1,0M388.65,72.51a1.55,1.55 0 1,0 3.1,0a1.55,1.55 0 1,0 -3.1,0M389.55,73.14a1.55,1.55 0 1,0 3.1,0a1.55,1.55 0 1,0 -3.1,0M390.02,71.01a1.55,1.55 0 1,0 3.1,0a1.55,1.55 0 1,0 -3.1,0M390.57,71.49a1.55,1.55 0 1,0 3.1,0a1.55,1.55 0 1,0 -3.1,0M390.83,72.23a1.55,1.55 0 1,0 3.1,0a1.55,1.55 0 1,0 -3.1,0M391.47,72.08a1.55,1.55 0 1,0 3.1,0a1.55,1.55 0 1,0 -3.1,0M391.39,71.23a1.55,1.55 0 1,0 3.1,0a1.55,1.55 0 1,0 -3.1,0M391.98,71.69a1.55,1.55 0 1,0 3.1,0a1.55,1.55 0 1,0 -3.1,0M393.10,73.80a1.55,1.55 0 1,0 3.1,0a1.55,1.55 0 1,0 -3.1,0M393.48,72.41a1.55,1.55 0 1,0 3.1,0a1.55,1.55 0 1,0 -3.1,0M393.72,76.22a1.55,1.55 0 1,0 3.1,0a1.55,1.55 0 1,0 -3.1,0M394.36,74.91a1.55,1.55 0 1,0 3.1,0a1.55,1.55 0 1,0 -3.1,0M394.72,74.09a1.55,1.55 0 1,0 3.1,0a1.55,1.55 0 1,0 -3.1,0M394.94,74.76a1.55,1.55 0 1,0 3.1,0a1.55,1.55 0 1,0 -3.1,0M395.64,75.90a1.55,1.55 0 1,0 3.1,0a1.55,1.55 0 1,0 -3.1,0M396.59,74.70a1.55,1.55 0 1,0 3.1,0a1.55,1.55 0 1,0 -3.1,0M396.53,74.86a1.55,1.55 0 1,0 3.1,0a1.55,1.55 0 1,0 -3.1,0M396.95,74.58a1.55,1.55 0 1,0 3.1,0a1.55,1.55 0 1,0 -3.1,0M397.51,75.01a1.55,1.55 0 1,0 3.1,0a1.55,1.55 0 1,0 -3.1,0M397.83,76.37a1.55,1.55 0 1,0 3.1,0a1.55,1.55 0 1,0 -3.1,0M398.63,76.11a1.55,1.55 0 1,0 3.1,0a1.55,1.55 0 1,0 -3.1,0M399.42,74.79a1.55,1.55 0 1,0 3.1,0a1.55,1.55 0 1,0 -3.1,0M399.72,75.69a1.55,1.55 0 1,0 3.1,0a1.55,1.55 0 1,0 -3.1,0M399.91,74.64a1.55,1.55 0 1,0 3.1,0a1.55,1.55 0 1,0 -3.1,0M400.56,74.66a1.55,1.55 0 1,0 3.1,0a1.55,1.55 0 1,0 -3.1,0M401.46,72.72a1.55,1.55 0 1,0 3.1,0a1.55,1.55 0 1,0 -3.1,0M401.48,72.19a1.55,1.55 0 1,0 3.1,0a1.55,1.55 0 1,0 -3.1,0M402.01,72.40a1.55,1.55 0 1,0 3.1,0a1.55,1.55 0 1,0 -3.1,0M402.66,75.80a1.55,1.55 0 1,0 3.1,0a1.55,1.55 0 1,0 -3.1,0M403.13,73.28a1.55,1.55 0 1,0 3.1,0a1.55,1.55 0 1,0 -3.1,0M403.72,73.41a1.55,1.55 0 1,0 3.1,0a1.55,1.55 0 1,0 -3.1,0M404.46,75.44a1.55,1.55 0 1,0 3.1,0a1.55,1.55 0 1,0 -3.1,0M404.45,74.01a1.55,1.55 0 1,0 3.1,0a1.55,1.55 0 1,0 -3.1,0M405.40,77.06a1.55,1.55 0 1,0 3.1,0a1.55,1.55 0 1,0 -3.1,0M405.88,75.51a1.55,1.55 0 1,0 3.1,0a1.55,1.55 0 1,0 -3.1,0M406.68,74.28a1.55,1.55 0 1,0 3.1,0a1.55,1.55 0 1,0 -3.1,0M406.35,77.60a1.55,1.55 0 1,0 3.1,0a1.55,1.55 0 1,0 -3.1,0M407.17,75.19a1.55,1.55 0 1,0 3.1,0a1.55,1.55 0 1,0 -3.1,0M407.79,79.17a1.55,1.55 0 1,0 3.1,0a1.55,1.55 0 1,0 -3.1,0M408.27,77.14a1.55,1.55 0 1,0 3.1,0a1.55,1.55 0 1,0 -3.1,0M408.38,76.47a1.55,1.55 0 1,0 3.1,0a1.55,1.55 0 1,0 -3.1,0M409.61,78.46a1.55,1.55 0 1,0 3.1,0a1.55,1.55 0 1,0 -3.1,0M410.14,77.19a1.55,1.55 0 1,0 3.1,0a1.55,1.55 0 1,0 -3.1,0M410.02,77.57a1.55,1.55 0 1,0 3.1,0a1.55,1.55 0 1,0 -3.1,0M410.66,78.00a1.55,1.55 0 1,0 3.1,0a1.55,1.55 0 1,0 -3.1,0M411.03,79.71a1.55,1.55 0 1,0 3.1,0a1.55,1.55 0 1,0 -3.1,0M411.58,78.75a1.55,1.55 0 1,0 3.1,0a1.55,1.55 0 1,0 -3.1,0M411.83,82.64a1.55,1.55 0 1,0 3.1,0a1.55,1.55 0 1,0 -3.1,0M412.46,80.86a1.55,1.55 0 1,0 3.1,0a1.55,1.55 0 1,0 -3.1,0M413.16,80.67a1.55,1.55 0 1,0 3.1,0a1.55,1.55 0 1,0 -3.1,0M413.38,79.56a1.55,1.55 0 1,0 3.1,0a1.55,1.55 0 1,0 -3.1,0M413.90,80.14a1.55,1.55 0 1,0 3.1,0a1.55,1.55 0 1,0 -3.1,0M415.13,80.07a1.55,1.55 0 1,0 3.1,0a1.55,1.55 0 1,0 -3.1,0M415.57,78.33a1.55,1.55 0 1,0 3.1,0a1.55,1.55 0 1,0 -3.1,0M415.32,79.28a1.55,1.55 0 1,0 3.1,0a1.55,1.55 0 1,0 -3.1,0M416.24,79.12a1.55,1.55 0 1,0 3.1,0a1.55,1.55 0 1,0 -3.1,0M416.64,79.04a1.55,1.55 0 1,0 3.1,0a1.55,1.55 0 1,0 -3.1,0M417.45,79.85a1.55,1.55 0 1,0 3.1,0a1.55,1.55 0 1,0 -3.1,0M417.58,77.81a1.55,1.55 0 1,0 3.1,0a1.55,1.55 0 1,0 -3.1,0M418.54,76.66a1.55,1.55 0 1,0 3.1,0a1.55,1.55 0 1,0 -3.1,0M418.40,76.71a1.55,1.55 0 1,0 3.1,0a1.55,1.55 0 1,0 -3.1,0M418.88,78.17a1.55,1.55 0 1,0 3.1,0a1.55,1.55 0 1,0 -3.1,0M420.04,76.14a1.55,1.55 0 1,0 3.1,0a1.55,1.55 0 1,0 -3.1,0M419.92,74.97a1.55,1.55 0 1,0 3.1,0a1.55,1.55 0 1,0 -3.1,0M420.52,74.69a1.55,1.55 0 1,0 3.1,0a1.55,1.55 0 1,0 -3.1,0M421.19,76.27a1.55,1.55 0 1,0 3.1,0a1.55,1.55 0 1,0 -3.1,0M421.52,74.03a1.55,1.55 0 1,0 3.1,0a1.55,1.55 0 1,0 -3.1,0M422.43,73.69a1.55,1.55 0 1,0 3.1,0a1.55,1.55 0 1,0 -3.1,0M422.48,74.30a1.55,1.55 0 1,0 3.1,0a1.55,1.55 0 1,0 -3.1,0M423.14,73.43a1.55,1.55 0 1,0 3.1,0a1.55,1.55 0 1,0 -3.1,0M423.68,74.18a1.55,1.55 0 1,0 3.1,0a1.55,1.55 0 1,0 -3.1,0M424.48,75.03a1.55,1.55 0 1,0 3.1,0a1.55,1.55 0 1,0 -3.1,0M425.11,75.33a1.55,1.55 0 1,0 3.1,0a1.55,1.55 0 1,0 -3.1,0M425.48,74.96a1.55,1.55 0 1,0 3.1,0a1.55,1.55 0 1,0 -3.1,0M425.70,75.80a1.55,1.55 0 1,0 3.1,0a1.55,1.55 0 1,0 -3.1,0M426.39,76.26a1.55,1.55 0 1,0 3.1,0a1.55,1.55 0 1,0 -3.1,0M426.96,75.64a1.55,1.55 0 1,0 3.1,0a1.55,1.55 0 1,0 -3.1,0M427.04,76.69a1.55,1.55 0 1,0 3.1,0a1.55,1.55 0 1,0 -3.1,0M427.64,74.72a1.55,1.55 0 1,0 3.1,0a1.55,1.55 0 1,0 -3.1,0M427.86,75.49a1.55,1.55 0 1,0 3.1,0a1.55,1.55 0 1,0 -3.1,0M428.54,78.45a1.55,1.55 0 1,0 3.1,0a1.55,1.55 0 1,0 -3.1,0M429.06,76.17a1.55,1.55 0 1,0 3.1,0a1.55,1.55 0 1,0 -3.1,0M429.99,79.64a1.55,1.55 0 1,0 3.1,0a1.55,1.55 0 1,0 -3.1,0M429.82,77.90a1.55,1.55 0 1,0 3.1,0a1.55,1.55 0 1,0 -3.1,0M430.42,80.40a1.55,1.55 0 1,0 3.1,0a1.55,1.55 0 1,0 -3.1,0M431.57,84.38a1.55,1.55 0 1,0 3.1,0a1.55,1.55 0 1,0 -3.1,0M431.85,81.54a1.55,1.55 0 1,0 3.1,0a1.55,1.55 0 1,0 -3.1,0M432.19,83.12a1.55,1.55 0 1,0 3.1,0a1.55,1.55 0 1,0 -3.1,0M432.60,82.20a1.55,1.55 0 1,0 3.1,0a1.55,1.55 0 1,0 -3.1,0M433.33,87.34a1.55,1.55 0 1,0 3.1,0a1.55,1.55 0 1,0 -3.1,0M433.95,84.18a1.55,1.55 0 1,0 3.1,0a1.55,1.55 0 1,0 -3.1,0M434.28,85.05a1.55,1.55 0 1,0 3.1,0a1.55,1.55 0 1,0 -3.1,0M434.94,86.95a1.55,1.55 0 1,0 3.1,0a1.55,1.55 0 1,0 -3.1,0M435.64,89.24a1.55,1.55 0 1,0 3.1,0a1.55,1.55 0 1,0 -3.1,0M435.41,87.22a1.55,1.55 0 1,0 3.1,0a1.55,1.55 0 1,0 -3.1,0M436.62,88.45a1.55,1.55 0 1,0 3.1,0a1.55,1.55 0 1,0 -3.1,0M436.69,88.82a1.55,1.55 0 1,0 3.1,0a1.55,1.55 0 1,0 -3.1,0M437.49,91.89a1.55,1.55 0 1,0 3.1,0a1.55,1.55 0 1,0 -3.1,0M437.78,92.65a1.55,1.55 0 1,0 3.1,0a1.55,1.55 0 1,0 -3.1,0M438.34,88.74a1.55,1.55 0 1,0 3.1,0a1.55,1.55 0 1,0 -3.1,0M439.03,90.98a1.55,1.55 0 1,0 3.1,0a1.55,1.55 0 1,0 -3.1,0M438.85,94.47a1.55,1.55 0 1,0 3.1,0a1.55,1.55 0 1,0 -3.1,0M439.33,92.98a1.55,1.55 0 1,0 3.1,0a1.55,1.55 0 1,0 -3.1,0M440.23,95.16a1.55,1.55 0 1,0 3.1,0a1.55,1.55 0 1,0 -3.1,0M440.65,92.28a1.55,1.55 0 1,0 3.1,0a1.55,1.55 0 1,0 -3.1,0M441.05,92.87a1.55,1.55 0 1,0 3.1,0a1.55,1.55 0 1,0 -3.1,0M441.81,94.40a1.55,1.55 0 1,0 3.1,0a1.55,1.55 0 1,0 -3.1,0M442.48,94.51a1.55,1.55 0 1,0 3.1,0a1.55,1.55 0 1,0 -3.1,0M442.62,95.26a1.55,1.55 0 1,0 3.1,0a1.55,1.55 0 1,0 -3.1,0M443.68,99.05a1.55,1.55 0 1,0 3.1,0a1.55,1.55 0 1,0 -3.1,0M444.06,98.61a1.55,1.55 0 1,0 3.1,0a1.55,1.55 0 1,0 -3.1,0M444.16,97.25a1.55,1.55 0 1,0 3.1,0a1.55,1.55 0 1,0 -3.1,0M445.05,100.17a1.55,1.55 0 1,0 3.1,0a1.55,1.55 0 1,0 -3.1,0M444.83,99.62a1.55,1.55 0 1,0 3.1,0a1.55,1.55 0 1,0 -3.1,0M445.39,103.58a1.55,1.55 0 1,0 3.1,0a1.55,1.55 0 1,0 -3.1,0M446.61,101.99a1.55,1.55 0 1,0 3.1,0a1.55,1.55 0 1,0 -3.1,0M447.02,103.39a1.55,1.55 0 1,0 3.1,0a1.55,1.55 0 1,0 -3.1,0M447.41,106.69a1.55,1.55 0 1,0 3.1,0a1.55,1.55 0 1,0 -3.1,0M447.86,106.86a1.55,1.55 0 1,0 3.1,0a1.55,1.55 0 1,0 -3.1,0M448.14,103.25a1.55,1.55 0 1,0 3.1,0a1.55,1.55 0 1,0 -3.1,0M448.76,106.75a1.55,1.55 0 1,0 3.1,0a1.55,1.55 0 1,0 -3.1,0M448.97,106.22a1.55,1.55 0 1,0 3.1,0a1.55,1.55 0 1,0 -3.1,0M449.59,104.84a1.55,1.55 0 1,0 3.1,0a1.55,1.55 0 1,0 -3.1,0M450.08,107.19a1.55,1.55 0 1,0 3.1,0a1.55,1.55 0 1,0 -3.1,0M450.73,109.41a1.55,1.55 0 1,0 3.1,0a1.55,1.55 0 1,0 -3.1,0M451.16,111.41a1.55,1.55 0 1,0 3.1,0a1.55,1.55 0 1,0 -3.1,0M452.03,111.66a1.55,1.55 0 1,0 3.1,0a1.55,1.55 0 1,0 -3.1,0M452.42,110.90a1.55,1.55 0 1,0 3.1,0a1.55,1.55 0 1,0 -3.1,0M452.78,112.12a1.55,1.55 0 1,0 3.1,0a1.55,1.55 0 1,0 -3.1,0M453.13,111.60a1.55,1.55 0 1,0 3.1,0a1.55,1.55 0 1,0 -3.1,0M453.91,111.78a1.55,1.55 0 1,0 3.1,0a1.55,1.55 0 1,0 -3.1,0M454.06,110.13a1.55,1.55 0 1,0 3.1,0a1.55,1.55 0 1,0 -3.1,0M454.38,112.40a1.55,1.55 0 1,0 3.1,0a1.55,1.55 0 1,0 -3.1,0M455.32,115.32a1.55,1.55 0 1,0 3.1,0a1.55,1.55 0 1,0 -3.1,0M455.94,114.15a1.55,1.55 0 1,0 3.1,0a1.55,1.55 0 1,0 -3.1,0M456.64,115.41a1.55,1.55 0 1,0 3.1,0a1.55,1.55 0 1,0 -3.1,0M456.94,115.78a1.55,1.55 0 1,0 3.1,0a1.55,1.55 0 1,0 -3.1,0M457.48,120.31a1.55,1.55 0 1,0 3.1,0a1.55,1.55 0 1,0 -3.1,0M458.16,122.89a1.55,1.55 0 1,0 3.1,0a1.55,1.55 0 1,0 -3.1,0M458.42,123.96a1.55,1.55 0 1,0 3.1,0a1.55,1.55 0 1,0 -3.1,0M458.96,124.15a1.55,1.55 0 1,0 3.1,0a1.55,1.55 0 1,0 -3.1,0M458.99,125.04a1.55,1.55 0 1,0 3.1,0a1.55,1.55 0 1,0 -3.1,0M460.11,125.49a1.55,1.55 0 1,0 3.1,0a1.55,1.55 0 1,0 -3.1,0M460.68,129.33a1.55,1.55 0 1,0 3.1,0a1.55,1.55 0 1,0 -3.1,0M352.45,13.00a1.55,1.55 0 1,0 3.1,0a1.55,1.55 0 1,0 -3.1,0M351.65,15.00a1.55,1.55 0 1,0 3.1,0a1.55,1.55 0 1,0 -3.1,0M365.45,40.50a1.55,1.55 0 1,0 3.1,0a1.55,1.55 0 1,0 -3.1,0M459.45,131.00a1.55,1.55 0 1,0 3.1,0a1.55,1.55 0 1,0 -3.1,0M461.45,128.00a1.55,1.55 0 1,0 3.1,0a1.55,1.55 0 1,0 -3.1,0M457.45,127.00a1.55,1.55 0 1,0 3.1,0a1.55,1.55 0 1,0 -3.1,0M458.45,133.00a1.55,1.55 0 1,0 3.1,0a1.55,1.55 0 1,0 -3.1,0M460.95,122.00a1.55,1.55 0 1,0 3.1,0a1.55,1.55 0 1,0 -3.1,0M456.95,121.00a1.55,1.55 0 1,0 3.1,0a1.55,1.55 0 1,0 -3.1,0M457.45,116.00a1.55,1.55 0 1,0 3.1,0a1.55,1.55 0 1,0 -3.1,0M455.45,120.00a1.55,1.55 0 1,0 3.1,0a1.55,1.55 0 1,0 -3.1,0M456.45,124.00a1.55,1.55 0 1,0 3.1,0a1.55,1.55 0 1,0 -3.1,0M457.95,129.00a1.55,1.55 0 1,0 3.1,0a1.55,1.55 0 1,0 -3.1,0M460.45,127.00a1.55,1.55 0 1,0 3.1,0a1.55,1.55 0 1,0 -3.1,0M461.95,124.00a1.55,1.55 0 1,0 3.1,0a1.55,1.55 0 1,0 -3.1,0M462.45,130.00a1.55,1.55 0 1,0 3.1,0a1.55,1.55 0 1,0 -3.1,0M459.45,133.00a1.55,1.55 0 1,0 3.1,0a1.55,1.55 0 1,0 -3.1,0M463.45,126.00a1.55,1.55 0 1,0 3.1,0a1.55,1.55 0 1,0 -3.1,0M436.25,91.90a1.55,1.55 0 1,0 3.1,0a1.55,1.55 0 1,0 -3.1,0" fill="none" stroke="#ff0000" stroke-width="1.1"/>
<line x1="282" y1="78.5" x2="464" y2="78.5" stroke="#000" stroke-width="1" stroke-dasharray="1,1"/>
<text x="396.1" y="95.5" font-size="9.9" font-weight="bold" text-anchor="middle" fill="#f01010" font-family="&quot;Liberation Sans&quot;, sans-serif">(1)</text>
<rect x="35.5" y="185.5" width="180.0" height="142.0" fill="none" stroke="#848484" stroke-width="1.0"/>
<line x1="74.8" y1="327.5" x2="74.8" y2="325.5" stroke="#777" stroke-width="0.7"/>
<line x1="74.8" y1="185.5" x2="74.8" y2="187.5" stroke="#777" stroke-width="0.7"/>
<text transform="translate(74.8,336.7) scale(0.09514,0.10571)" font-size="70" text-anchor="middle" fill="#1a1a1a" stroke="#1a1a1a" stroke-width="2.08" font-family="&quot;Liberation Sans&quot;, sans-serif">5</text>
<line x1="126.85" y1="327.5" x2="126.85" y2="325.5" stroke="#777" stroke-width="0.7"/>
<line x1="126.85" y1="185.5" x2="126.85" y2="187.5" stroke="#777" stroke-width="0.7"/>
<text transform="translate(126.85,336.7) scale(0.09514,0.10571)" font-size="70" text-anchor="middle" fill="#1a1a1a" stroke="#1a1a1a" stroke-width="2.08" font-family="&quot;Liberation Sans&quot;, sans-serif">10</text>
<line x1="178.89999999999998" y1="327.5" x2="178.89999999999998" y2="325.5" stroke="#777" stroke-width="0.7"/>
<line x1="178.89999999999998" y1="185.5" x2="178.89999999999998" y2="187.5" stroke="#777" stroke-width="0.7"/>
<text transform="translate(178.89999999999998,336.7) scale(0.09514,0.10571)" font-size="70" text-anchor="middle" fill="#1a1a1a" stroke="#1a1a1a" stroke-width="2.08" font-family="&quot;Liberation Sans&quot;, sans-serif">15</text>
<line x1="35.5" y1="314.5" x2="37.5" y2="314.5" stroke="#777" stroke-width="0.7"/>
<line x1="215.5" y1="314.5" x2="213.5" y2="314.5" stroke="#777" stroke-width="0.7"/>
<text transform="translate(33.0,317.45) scale(0.09514,0.10571)" font-size="70" text-anchor="end" fill="#1a1a1a" stroke="#1a1a1a" stroke-width="2.08" font-family="&quot;Liberation Sans&quot;, sans-serif">0.6</text>
<line x1="35.5" y1="300.37" x2="37.5" y2="300.37" stroke="#777" stroke-width="0.7"/>
<line x1="215.5" y1="300.37" x2="213.5" y2="300.37" stroke="#777" stroke-width="0.7"/>
<text transform="translate(33.0,303.32) scale(0.09514,0.10571)" font-size="70" text-anchor="end" fill="#1a1a1a" stroke="#1a1a1a" stroke-width="2.08" font-family="&quot;Liberation Sans&quot;, sans-serif">0.7</text>
<line x1="35.5" y1="286.24" x2="37.5" y2="286.24" stroke="#777" stroke-width="0.7"/>
<line x1="215.5" y1="286.24" x2="213.5" y2="286.24" stroke="#777" stroke-width="0.7"/>
<text transform="translate(33.0,289.19) scale(0.09514,0.10571)" font-size="70" text-anchor="end" fill="#1a1a1a" stroke="#1a1a1a" stroke-width="2.08" font-family="&quot;Liberation Sans&quot;, sans-serif">0.8</text>
<line x1="35.5" y1="272.11" x2="37.5" y2="272.11" stroke="#777" stroke-width="0.7"/>
<line x1="215.5" y1="272.11" x2="213.5" y2="272.11" stroke="#777" stroke-width="0.7"/>
<text transform="translate(33.0,275.06) scale(0.09514,0.10571)" font-size="70" text-anchor="end" fill="#1a1a1a" stroke="#1a1a1a" stroke-width="2.08" font-family="&quot;Liberation Sans&quot;, sans-serif">0.9</text>
<line x1="35.5" y1="257.98" x2="37.5" y2="257.98" stroke="#777" stroke-width="0.7"/>
<line x1="215.5" y1="257.98" x2="213.5" y2="257.98" stroke="#777" stroke-width="0.7"/>
<text transform="translate(33.0,260.93) scale(0.09514,0.10571)" font-size="70" text-anchor="end" fill="#1a1a1a" stroke="#1a1a1a" stroke-width="2.08" font-family="&quot;Liberation Sans&quot;, sans-serif">1</text>
<line x1="35.5" y1="243.84999999999997" x2="37.5" y2="243.84999999999997" stroke="#777" stroke-width="0.7"/>
<line x1="215.5" y1="243.84999999999997" x2="213.5" y2="243.84999999999997" stroke="#777" stroke-width="0.7"/>
<text transform="translate(33.0,246.79999999999995) scale(0.09514,0.10571)" font-size="70" text-anchor="end" fill="#1a1a1a" stroke="#1a1a1a" stroke-width="2.08" font-family="&quot;Liberation Sans&quot;, sans-serif">1.1</text>
<line x1="35.5" y1="229.72" x2="37.5" y2="229.72" stroke="#777" stroke-width="0.7"/>
<line x1="215.5" y1="229.72" x2="213.5" y2="229.72" stroke="#777" stroke-width="0.7"/>
<text transform="translate(33.0,232.67) scale(0.09514,0.10571)" font-size="70" text-anchor="end" fill="#1a1a1a" stroke="#1a1a1a" stroke-width="2.08" font-family="&quot;Liberation Sans&quot;, sans-serif">1.2</text>
<line x1="35.5" y1="215.58999999999997" x2="37.5" y2="215.58999999999997" stroke="#777" stroke-width="0.7"/>
<line x1="215.5" y1="215.58999999999997" x2="213.5" y2="215.58999999999997" stroke="#777" stroke-width="0.7"/>
<text transform="translate(33.0,218.53999999999996) scale(0.09514,0.10571)" font-size="70" text-anchor="end" fill="#1a1a1a" stroke="#1a1a1a" stroke-width="2.08" font-family="&quot;Liberation Sans&quot;, sans-serif">1.3</text>
<line x1="35.5" y1="201.45999999999998" x2="37.5" y2="201.45999999999998" stroke="#777" stroke-width="0.7"/>
<line x1="215.5" y1="201.45999999999998" x2="213.5" y2="201.45999999999998" stroke="#777" stroke-width="0.7"/>
<text transform="translate(33.0,204.40999999999997) scale(0.09514,0.10571)" font-size="70" text-anchor="end" fill="#1a1a1a" stroke="#1a1a1a" stroke-width="2.08" font-family="&quot;Liberation Sans&quot;, sans-serif">1.4</text>
<line x1="35.5" y1="187.32999999999998" x2="37.5" y2="187.32999999999998" stroke="#777" stroke-width="0.7"/>
<line x1="215.5" y1="187.32999999999998" x2="213.5" y2="187.32999999999998" stroke="#777" stroke-width="0.7"/>
<text transform="translate(33.0,190.27999999999997) scale(0.09514,0.10571)" font-size="70" text-anchor="end" fill="#1a1a1a" stroke="#1a1a1a" stroke-width="2.08" font-family="&quot;Liberation Sans&quot;, sans-serif">1.5</text>
<text x="125.5" y="345.0" font-size="7.2" text-anchor="middle" fill="#1a1a1a" stroke="#1a1a1a" stroke-width="0.22" font-family="&quot;Liberation Sans&quot;, sans-serif">time [s]</text>
<text transform="translate(16.9,256.5) rotate(-90)" x="0" y="0" font-size="7.2" text-anchor="middle" fill="#1a1a1a" stroke="#1a1a1a" stroke-width="0.22" font-family="&quot;Liberation Sans&quot;, sans-serif">curvature</text>
<path d="M43.11,303.76a1.55,1.55 0 1,0 3.1,0a1.55,1.55 0 1,0 -3.1,0M44.78,297.52a1.55,1.55 0 1,0 3.1,0a1.55,1.55 0 1,0 -3.1,0M45.57,296.37a1.55,1.55 0 1,0 3.1,0a1.55,1.55 0 1,0 -3.1,0M47.36,293.73a1.55,1.55 0 1,0 3.1,0a1.55,1.55 0 1,0 -3.1,0M48.26,291.18a1.55,1.55 0 1,0 3.1,0a1.55,1.55 0 1,0 -3.1,0M48.95,291.23a1.55,1.55 0 1,0 3.1,0a1.55,1.55 0 1,0 -3.1,0M50.74,289.73a1.55,1.55 0 1,0 3.1,0a1.55,1.55 0 1,0 -3.1,0M52.14,290.08a1.55,1.55 0 1,0 3.1,0a1.55,1.55 0 1,0 -3.1,0M52.78,289.09a1.55,1.55 0 1,0 3.1,0a1.55,1.55 0 1,0 -3.1,0M54.75,291.73a1.55,1.55 0 1,0 3.1,0a1.55,1.55 0 1,0 -3.1,0M55.83,291.09a1.55,1.55 0 1,0 3.1,0a1.55,1.55 0 1,0 -3.1,0M56.18,289.92a1.55,1.55 0 1,0 3.1,0a1.55,1.55 0 1,0 -3.1,0M57.85,289.66a1.55,1.55 0 1,0 3.1,0a1.55,1.55 0 1,0 -3.1,0M59.50,291.27a1.55,1.55 0 1,0 3.1,0a1.55,1.55 0 1,0 -3.1,0M59.90,294.07a1.55,1.55 0 1,0 3.1,0a1.55,1.55 0 1,0 -3.1,0M61.07,295.71a1.55,1.55 0 1,0 3.1,0a1.55,1.55 0 1,0 -3.1,0M62.60,295.41a1.55,1.55 0 1,0 3.1,0a1.55,1.55 0 1,0 -3.1,0M63.69,296.14a1.55,1.55 0 1,0 3.1,0a1.55,1.55 0 1,0 -3.1,0M64.74,294.95a1.55,1.55 0 1,0 3.1,0a1.55,1.55 0 1,0 -3.1,0M66.62,296.34a1.55,1.55 0 1,0 3.1,0a1.55,1.55 0 1,0 -3.1,0M67.73,296.83a1.55,1.55 0 1,0 3.1,0a1.55,1.55 0 1,0 -3.1,0M69.12,300.33a1.55,1.55 0 1,0 3.1,0a1.55,1.55 0 1,0 -3.1,0M70.10,300.55a1.55,1.55 0 1,0 3.1,0a1.55,1.55 0 1,0 -3.1,0M71.13,301.17a1.55,1.55 0 1,0 3.1,0a1.55,1.55 0 1,0 -3.1,0M71.87,300.67a1.55,1.55 0 1,0 3.1,0a1.55,1.55 0 1,0 -3.1,0M73.78,299.97a1.55,1.55 0 1,0 3.1,0a1.55,1.55 0 1,0 -3.1,0M75.07,303.12a1.55,1.55 0 1,0 3.1,0a1.55,1.55 0 1,0 -3.1,0M75.76,301.43a1.55,1.55 0 1,0 3.1,0a1.55,1.55 0 1,0 -3.1,0M77.00,301.67a1.55,1.55 0 1,0 3.1,0a1.55,1.55 0 1,0 -3.1,0M78.74,301.80a1.55,1.55 0 1,0 3.1,0a1.55,1.55 0 1,0 -3.1,0M78.98,300.76a1.55,1.55 0 1,0 3.1,0a1.55,1.55 0 1,0 -3.1,0M80.87,304.40a1.55,1.55 0 1,0 3.1,0a1.55,1.55 0 1,0 -3.1,0M81.85,301.94a1.55,1.55 0 1,0 3.1,0a1.55,1.55 0 1,0 -3.1,0M83.10,302.52a1.55,1.55 0 1,0 3.1,0a1.55,1.55 0 1,0 -3.1,0M83.97,301.51a1.55,1.55 0 1,0 3.1,0a1.55,1.55 0 1,0 -3.1,0M85.51,300.16a1.55,1.55 0 1,0 3.1,0a1.55,1.55 0 1,0 -3.1,0M86.33,296.75a1.55,1.55 0 1,0 3.1,0a1.55,1.55 0 1,0 -3.1,0M87.70,298.04a1.55,1.55 0 1,0 3.1,0a1.55,1.55 0 1,0 -3.1,0M88.90,294.72a1.55,1.55 0 1,0 3.1,0a1.55,1.55 0 1,0 -3.1,0M90.06,290.75a1.55,1.55 0 1,0 3.1,0a1.55,1.55 0 1,0 -3.1,0M91.02,291.92a1.55,1.55 0 1,0 3.1,0a1.55,1.55 0 1,0 -3.1,0M92.93,288.57a1.55,1.55 0 1,0 3.1,0a1.55,1.55 0 1,0 -3.1,0M94.03,288.04a1.55,1.55 0 1,0 3.1,0a1.55,1.55 0 1,0 -3.1,0M95.45,287.17a1.55,1.55 0 1,0 3.1,0a1.55,1.55 0 1,0 -3.1,0M96.16,285.29a1.55,1.55 0 1,0 3.1,0a1.55,1.55 0 1,0 -3.1,0M97.91,282.03a1.55,1.55 0 1,0 3.1,0a1.55,1.55 0 1,0 -3.1,0M99.03,280.03a1.55,1.55 0 1,0 3.1,0a1.55,1.55 0 1,0 -3.1,0M99.73,276.99a1.55,1.55 0 1,0 3.1,0a1.55,1.55 0 1,0 -3.1,0M101.43,273.65a1.55,1.55 0 1,0 3.1,0a1.55,1.55 0 1,0 -3.1,0M101.82,273.22a1.55,1.55 0 1,0 3.1,0a1.55,1.55 0 1,0 -3.1,0M103.72,268.93a1.55,1.55 0 1,0 3.1,0a1.55,1.55 0 1,0 -3.1,0M104.99,266.01a1.55,1.55 0 1,0 3.1,0a1.55,1.55 0 1,0 -3.1,0M105.61,265.76a1.55,1.55 0 1,0 3.1,0a1.55,1.55 0 1,0 -3.1,0M106.97,262.28a1.55,1.55 0 1,0 3.1,0a1.55,1.55 0 1,0 -3.1,0M107.82,258.15a1.55,1.55 0 1,0 3.1,0a1.55,1.55 0 1,0 -3.1,0M109.85,257.63a1.55,1.55 0 1,0 3.1,0a1.55,1.55 0 1,0 -3.1,0M110.90,252.84a1.55,1.55 0 1,0 3.1,0a1.55,1.55 0 1,0 -3.1,0M111.60,249.84a1.55,1.55 0 1,0 3.1,0a1.55,1.55 0 1,0 -3.1,0M113.08,244.41a1.55,1.55 0 1,0 3.1,0a1.55,1.55 0 1,0 -3.1,0M113.78,239.35a1.55,1.55 0 1,0 3.1,0a1.55,1.55 0 1,0 -3.1,0M115.79,234.26a1.55,1.55 0 1,0 3.1,0a1.55,1.55 0 1,0 -3.1,0M117.03,231.16a1.55,1.55 0 1,0 3.1,0a1.55,1.55 0 1,0 -3.1,0M117.78,235.57a1.55,1.55 0 1,0 3.1,0a1.55,1.55 0 1,0 -3.1,0M119.40,247.50a1.55,1.55 0 1,0 3.1,0a1.55,1.55 0 1,0 -3.1,0M120.28,267.40a1.55,1.55 0 1,0 3.1,0a1.55,1.55 0 1,0 -3.1,0M121.72,277.04a1.55,1.55 0 1,0 3.1,0a1.55,1.55 0 1,0 -3.1,0M122.84,288.62a1.55,1.55 0 1,0 3.1,0a1.55,1.55 0 1,0 -3.1,0M123.37,291.97a1.55,1.55 0 1,0 3.1,0a1.55,1.55 0 1,0 -3.1,0M125.19,295.93a1.55,1.55 0 1,0 3.1,0a1.55,1.55 0 1,0 -3.1,0M126.33,294.60a1.55,1.55 0 1,0 3.1,0a1.55,1.55 0 1,0 -3.1,0M127.36,298.46a1.55,1.55 0 1,0 3.1,0a1.55,1.55 0 1,0 -3.1,0M129.06,296.21a1.55,1.55 0 1,0 3.1,0a1.55,1.55 0 1,0 -3.1,0M129.44,297.10a1.55,1.55 0 1,0 3.1,0a1.55,1.55 0 1,0 -3.1,0M130.58,299.56a1.55,1.55 0 1,0 3.1,0a1.55,1.55 0 1,0 -3.1,0M131.89,302.29a1.55,1.55 0 1,0 3.1,0a1.55,1.55 0 1,0 -3.1,0M133.61,300.38a1.55,1.55 0 1,0 3.1,0a1.55,1.55 0 1,0 -3.1,0M134.69,302.22a1.55,1.55 0 1,0 3.1,0a1.55,1.55 0 1,0 -3.1,0M135.84,302.85a1.55,1.55 0 1,0 3.1,0a1.55,1.55 0 1,0 -3.1,0M136.72,303.76a1.55,1.55 0 1,0 3.1,0a1.55,1.55 0 1,0 -3.1,0M138.13,306.91a1.55,1.55 0 1,0 3.1,0a1.55,1.55 0 1,0 -3.1,0M139.50,305.31a1.55,1.55 0 1,0 3.1,0a1.55,1.55 0 1,0 -3.1,0M140.86,309.65a1.55,1.55 0 1,0 3.1,0a1.55,1.55 0 1,0 -3.1,0M142.12,310.21a1.55,1.55 0 1,0 3.1,0a1.55,1.55 0 1,0 -3.1,0M142.56,309.81a1.55,1.55 0 1,0 3.1,0a1.55,1.55 0 1,0 -3.1,0M143.81,311.91a1.55,1.55 0 1,0 3.1,0a1.55,1.55 0 1,0 -3.1,0M145.13,312.45a1.55,1.55 0 1,0 3.1,0a1.55,1.55 0 1,0 -3.1,0M146.40,313.11a1.55,1.55 0 1,0 3.1,0a1.55,1.55 0 1,0 -3.1,0M147.66,311.21a1.55,1.55 0 1,0 3.1,0a1.55,1.55 0 1,0 -3.1,0M148.94,313.00a1.55,1.55 0 1,0 3.1,0a1.55,1.55 0 1,0 -3.1,0M150.65,313.48a1.55,1.55 0 1,0 3.1,0a1.55,1.55 0 1,0 -3.1,0M151.45,314.95a1.55,1.55 0 1,0 3.1,0a1.55,1.55 0 1,0 -3.1,0M153.10,313.59a1.55,1.55 0 1,0 3.1,0a1.55,1.55 0 1,0 -3.1,0M153.95,315.93a1.55,1.55 0 1,0 3.1,0a1.55,1.55 0 1,0 -3.1,0M155.28,318.97a1.55,1.55 0 1,0 3.1,0a1.55,1.55 0 1,0 -3.1,0M156.06,319.10a1.55,1.55 0 1,0 3.1,0a1.55,1.55 0 1,0 -3.1,0M157.48,319.74a1.55,1.55 0 1,0 3.1,0a1.55,1.55 0 1,0 -3.1,0M158.21,318.46a1.55,1.55 0 1,0 3.1,0a1.55,1.55 0 1,0 -3.1,0M160.33,311.29a1.55,1.55 0 1,0 3.1,0a1.55,1.55 0 1,0 -3.1,0M160.87,307.51a1.55,1.55 0 1,0 3.1,0a1.55,1.55 0 1,0 -3.1,0M161.86,298.24a1.55,1.55 0 1,0 3.1,0a1.55,1.55 0 1,0 -3.1,0M163.02,297.76a1.55,1.55 0 1,0 3.1,0a1.55,1.55 0 1,0 -3.1,0M164.91,293.39a1.55,1.55 0 1,0 3.1,0a1.55,1.55 0 1,0 -3.1,0M165.97,289.28a1.55,1.55 0 1,0 3.1,0a1.55,1.55 0 1,0 -3.1,0M167.19,288.37a1.55,1.55 0 1,0 3.1,0a1.55,1.55 0 1,0 -3.1,0M168.27,285.36a1.55,1.55 0 1,0 3.1,0a1.55,1.55 0 1,0 -3.1,0M169.35,281.90a1.55,1.55 0 1,0 3.1,0a1.55,1.55 0 1,0 -3.1,0M170.20,278.54a1.55,1.55 0 1,0 3.1,0a1.55,1.55 0 1,0 -3.1,0M171.60,274.68a1.55,1.55 0 1,0 3.1,0a1.55,1.55 0 1,0 -3.1,0M173.37,268.63a1.55,1.55 0 1,0 3.1,0a1.55,1.55 0 1,0 -3.1,0M174.21,263.48a1.55,1.55 0 1,0 3.1,0a1.55,1.55 0 1,0 -3.1,0M175.34,264.72a1.55,1.55 0 1,0 3.1,0a1.55,1.55 0 1,0 -3.1,0M176.78,272.10a1.55,1.55 0 1,0 3.1,0a1.55,1.55 0 1,0 -3.1,0M177.44,278.22a1.55,1.55 0 1,0 3.1,0a1.55,1.55 0 1,0 -3.1,0M179.04,281.34a1.55,1.55 0 1,0 3.1,0a1.55,1.55 0 1,0 -3.1,0M180.64,282.92a1.55,1.55 0 1,0 3.1,0a1.55,1.55 0 1,0 -3.1,0M181.58,284.03a1.55,1.55 0 1,0 3.1,0a1.55,1.55 0 1,0 -3.1,0M182.82,286.24a1.55,1.55 0 1,0 3.1,0a1.55,1.55 0 1,0 -3.1,0M184.05,287.25a1.55,1.55 0 1,0 3.1,0a1.55,1.55 0 1,0 -3.1,0M184.80,289.75a1.55,1.55 0 1,0 3.1,0a1.55,1.55 0 1,0 -3.1,0M186.14,290.01a1.55,1.55 0 1,0 3.1,0a1.55,1.55 0 1,0 -3.1,0M187.77,292.74a1.55,1.55 0 1,0 3.1,0a1.55,1.55 0 1,0 -3.1,0M189.14,290.13a1.55,1.55 0 1,0 3.1,0a1.55,1.55 0 1,0 -3.1,0M189.66,291.95a1.55,1.55 0 1,0 3.1,0a1.55,1.55 0 1,0 -3.1,0M190.94,291.88a1.55,1.55 0 1,0 3.1,0a1.55,1.55 0 1,0 -3.1,0M192.30,292.22a1.55,1.55 0 1,0 3.1,0a1.55,1.55 0 1,0 -3.1,0M193.25,296.15a1.55,1.55 0 1,0 3.1,0a1.55,1.55 0 1,0 -3.1,0M194.89,294.67a1.55,1.55 0 1,0 3.1,0a1.55,1.55 0 1,0 -3.1,0M195.46,297.10a1.55,1.55 0 1,0 3.1,0a1.55,1.55 0 1,0 -3.1,0M197.25,294.55a1.55,1.55 0 1,0 3.1,0a1.55,1.55 0 1,0 -3.1,0M198.09,296.74a1.55,1.55 0 1,0 3.1,0a1.55,1.55 0 1,0 -3.1,0M199.63,295.67a1.55,1.55 0 1,0 3.1,0a1.55,1.55 0 1,0 -3.1,0M201.10,296.36a1.55,1.55 0 1,0 3.1,0a1.55,1.55 0 1,0 -3.1,0M201.60,298.91a1.55,1.55 0 1,0 3.1,0a1.55,1.55 0 1,0 -3.1,0M202.70,298.70a1.55,1.55 0 1,0 3.1,0a1.55,1.55 0 1,0 -3.1,0M203.95,298.82a1.55,1.55 0 1,0 3.1,0a1.55,1.55 0 1,0 -3.1,0M205.23,298.27a1.55,1.55 0 1,0 3.1,0a1.55,1.55 0 1,0 -3.1,0M207.09,298.92a1.55,1.55 0 1,0 3.1,0a1.55,1.55 0 1,0 -3.1,0M207.79,299.82a1.55,1.55 0 1,0 3.1,0a1.55,1.55 0 1,0 -3.1,0M208.83,298.27a1.55,1.55 0 1,0 3.1,0a1.55,1.55 0 1,0 -3.1,0M210.13,298.81a1.55,1.55 0 1,0 3.1,0a1.55,1.55 0 1,0 -3.1,0M211.14,301.72a1.55,1.55 0 1,0 3.1,0a1.55,1.55 0 1,0 -3.1,0M209.95,306.70a1.55,1.55 0 1,0 3.1,0a1.55,1.55 0 1,0 -3.1,0M212.95,288.10a1.55,1.55 0 1,0 3.1,0a1.55,1.55 0 1,0 -3.1,0M42.45,306.00a1.55,1.55 0 1,0 3.1,0a1.55,1.55 0 1,0 -3.1,0M115.05,230.90a1.55,1.55 0 1,0 3.1,0a1.55,1.55 0 1,0 -3.1,0" fill="none" stroke="#0000ff" stroke-width="1.1"/>
<path d="M50.98,307.37h2.1v2.1h-2.1zM51.88,303.84h2.1v2.1h-2.1zM52.61,303.40h2.1v2.1h-2.1zM53.51,298.35h2.1v2.1h-2.1zM54.21,296.52h2.1v2.1h-2.1zM54.95,294.44h2.1v2.1h-2.1zM55.76,289.57h2.1v2.1h-2.1zM56.73,287.78h2.1v2.1h-2.1zM57.27,284.61h2.1v2.1h-2.1zM58.15,283.52h2.1v2.1h-2.1zM58.99,285.70h2.1v2.1h-2.1zM59.72,286.06h2.1v2.1h-2.1zM60.72,285.43h2.1v2.1h-2.1zM61.42,284.43h2.1v2.1h-2.1zM61.97,287.59h2.1v2.1h-2.1zM62.86,285.53h2.1v2.1h-2.1zM63.91,287.65h2.1v2.1h-2.1zM64.40,286.68h2.1v2.1h-2.1zM65.25,286.92h2.1v2.1h-2.1zM65.95,288.08h2.1v2.1h-2.1zM66.87,287.86h2.1v2.1h-2.1zM67.62,287.15h2.1v2.1h-2.1zM68.36,289.79h2.1v2.1h-2.1zM69.45,288.99h2.1v2.1h-2.1zM70.00,287.93h2.1v2.1h-2.1zM70.80,288.86h2.1v2.1h-2.1zM71.57,289.13h2.1v2.1h-2.1zM72.43,289.27h2.1v2.1h-2.1zM73.41,290.51h2.1v2.1h-2.1zM74.14,290.60h2.1v2.1h-2.1zM74.97,292.36h2.1v2.1h-2.1zM75.67,290.47h2.1v2.1h-2.1zM76.54,291.86h2.1v2.1h-2.1zM77.46,291.41h2.1v2.1h-2.1zM78.30,291.45h2.1v2.1h-2.1zM78.97,293.02h2.1v2.1h-2.1zM79.68,294.64h2.1v2.1h-2.1zM80.63,292.52h2.1v2.1h-2.1zM81.35,294.16h2.1v2.1h-2.1zM81.96,292.63h2.1v2.1h-2.1zM82.99,294.68h2.1v2.1h-2.1zM83.74,293.70h2.1v2.1h-2.1zM84.55,293.18h2.1v2.1h-2.1zM85.50,295.43h2.1v2.1h-2.1zM86.14,292.27h2.1v2.1h-2.1zM86.91,294.17h2.1v2.1h-2.1zM87.68,291.34h2.1v2.1h-2.1zM88.42,292.68h2.1v2.1h-2.1zM89.40,290.72h2.1v2.1h-2.1zM90.20,291.73h2.1v2.1h-2.1zM91.14,291.76h2.1v2.1h-2.1zM91.72,291.49h2.1v2.1h-2.1zM92.72,291.48h2.1v2.1h-2.1zM93.45,290.38h2.1v2.1h-2.1zM94.15,290.92h2.1v2.1h-2.1zM95.00,289.91h2.1v2.1h-2.1zM95.64,287.29h2.1v2.1h-2.1zM96.46,288.27h2.1v2.1h-2.1zM97.38,286.44h2.1v2.1h-2.1zM98.03,288.19h2.1v2.1h-2.1zM98.78,287.31h2.1v2.1h-2.1zM99.86,285.39h2.1v2.1h-2.1zM100.75,284.93h2.1v2.1h-2.1zM101.15,284.72h2.1v2.1h-2.1zM102.12,283.36h2.1v2.1h-2.1zM103.08,279.59h2.1v2.1h-2.1zM103.57,277.97h2.1v2.1h-2.1zM104.66,279.23h2.1v2.1h-2.1zM105.24,275.86h2.1v2.1h-2.1zM114.87,290.41h2.1v2.1h-2.1zM115.99,290.96h2.1v2.1h-2.1zM117.03,290.94h2.1v2.1h-2.1zM117.85,288.91h2.1v2.1h-2.1zM118.25,291.96h2.1v2.1h-2.1zM119.52,290.65h2.1v2.1h-2.1zM120.13,291.11h2.1v2.1h-2.1zM121.15,292.09h2.1v2.1h-2.1zM122.12,291.60h2.1v2.1h-2.1zM122.80,292.05h2.1v2.1h-2.1zM123.73,292.17h2.1v2.1h-2.1zM124.80,292.81h2.1v2.1h-2.1zM125.93,294.67h2.1v2.1h-2.1zM126.63,295.52h2.1v2.1h-2.1zM127.39,294.08h2.1v2.1h-2.1zM128.20,295.63h2.1v2.1h-2.1zM129.27,295.86h2.1v2.1h-2.1zM130.13,298.17h2.1v2.1h-2.1zM130.86,297.39h2.1v2.1h-2.1zM131.98,297.30h2.1v2.1h-2.1zM133.08,297.57h2.1v2.1h-2.1zM133.58,297.81h2.1v2.1h-2.1zM135.04,299.10h2.1v2.1h-2.1zM135.42,301.82h2.1v2.1h-2.1zM136.64,302.49h2.1v2.1h-2.1zM137.35,302.74h2.1v2.1h-2.1zM138.07,301.63h2.1v2.1h-2.1zM139.43,303.27h2.1v2.1h-2.1zM140.32,303.66h2.1v2.1h-2.1zM141.28,303.49h2.1v2.1h-2.1zM142.02,304.65h2.1v2.1h-2.1zM142.67,307.69h2.1v2.1h-2.1zM143.71,308.27h2.1v2.1h-2.1zM144.52,308.68h2.1v2.1h-2.1zM145.79,308.98h2.1v2.1h-2.1zM146.29,309.74h2.1v2.1h-2.1zM147.62,310.79h2.1v2.1h-2.1zM148.22,310.14h2.1v2.1h-2.1zM148.91,311.87h2.1v2.1h-2.1zM149.84,310.38h2.1v2.1h-2.1zM150.67,310.47h2.1v2.1h-2.1zM151.78,311.75h2.1v2.1h-2.1zM152.56,311.85h2.1v2.1h-2.1zM153.80,311.07h2.1v2.1h-2.1zM154.33,312.72h2.1v2.1h-2.1zM155.69,314.29h2.1v2.1h-2.1zM156.39,311.94h2.1v2.1h-2.1zM157.47,315.13h2.1v2.1h-2.1zM158.39,313.95h2.1v2.1h-2.1zM158.98,312.23h2.1v2.1h-2.1zM160.12,310.53h2.1v2.1h-2.1zM160.85,307.62h2.1v2.1h-2.1zM161.64,306.38h2.1v2.1h-2.1zM162.68,305.14h2.1v2.1h-2.1zM163.52,307.01h2.1v2.1h-2.1zM164.29,304.75h2.1v2.1h-2.1zM165.23,306.73h2.1v2.1h-2.1zM166.13,306.93h2.1v2.1h-2.1zM167.41,307.39h2.1v2.1h-2.1zM176.07,268.48h2.1v2.1h-2.1zM176.73,271.77h2.1v2.1h-2.1zM177.45,270.97h2.1v2.1h-2.1zM178.50,272.83h2.1v2.1h-2.1zM179.09,269.29h2.1v2.1h-2.1zM179.76,270.90h2.1v2.1h-2.1zM180.77,271.40h2.1v2.1h-2.1zM181.68,273.84h2.1v2.1h-2.1zM182.40,275.49h2.1v2.1h-2.1zM183.08,275.57h2.1v2.1h-2.1zM183.89,274.77h2.1v2.1h-2.1zM184.60,278.10h2.1v2.1h-2.1zM185.71,275.20h2.1v2.1h-2.1zM186.44,276.02h2.1v2.1h-2.1zM187.12,277.90h2.1v2.1h-2.1zM188.11,279.13h2.1v2.1h-2.1zM188.75,279.96h2.1v2.1h-2.1zM189.45,280.62h2.1v2.1h-2.1zM190.17,280.72h2.1v2.1h-2.1zM191.17,285.36h2.1v2.1h-2.1zM192.02,284.13h2.1v2.1h-2.1zM192.95,284.33h2.1v2.1h-2.1zM193.52,286.62h2.1v2.1h-2.1zM194.22,290.40h2.1v2.1h-2.1zM195.24,286.90h2.1v2.1h-2.1zM195.82,290.64h2.1v2.1h-2.1zM196.70,288.68h2.1v2.1h-2.1zM197.47,289.27h2.1v2.1h-2.1zM198.39,289.69h2.1v2.1h-2.1zM199.19,288.93h2.1v2.1h-2.1zM199.96,291.75h2.1v2.1h-2.1zM200.68,293.43h2.1v2.1h-2.1zM201.72,292.74h2.1v2.1h-2.1zM202.31,290.71h2.1v2.1h-2.1zM203.20,291.62h2.1v2.1h-2.1zM203.82,293.11h2.1v2.1h-2.1zM204.63,293.94h2.1v2.1h-2.1zM205.65,291.25h2.1v2.1h-2.1zM206.40,292.43h2.1v2.1h-2.1zM207.08,295.30h2.1v2.1h-2.1zM208.14,293.66h2.1v2.1h-2.1zM208.85,294.13h2.1v2.1h-2.1zM209.73,293.08h2.1v2.1h-2.1zM210.42,292.25h2.1v2.1h-2.1zM211.17,295.02h2.1v2.1h-2.1zM212.12,294.72h2.1v2.1h-2.1zM212.77,292.57h2.1v2.1h-2.1zM112.75,225.85h2.1v2.1h-2.1zM113.95,244.25h2.1v2.1h-2.1zM108.15,260.45h2.1v2.1h-2.1zM113.95,259.25h2.1v2.1h-2.1zM106.95,274.25h2.1v2.1h-2.1zM104.65,281.15h2.1v2.1h-2.1zM109.95,304.35h2.1v2.1h-2.1zM110.95,315.85h2.1v2.1h-2.1zM200.05,285.95h2.1v2.1h-2.1zM208.95,284.95h2.1v2.1h-2.1zM210.95,284.45h2.1v2.1h-2.1zM212.95,285.95h2.1v2.1h-2.1zM209.95,283.95h2.1v2.1h-2.1z" fill="#000"/>
<text x="63.8" y="274.95" font-size="9.9" font-weight="bold" text-anchor="middle" fill="#5548f0" font-family="&quot;Liberation Sans&quot;, sans-serif">(1)</text>
<text x="118.05" y="216.35" font-size="9.9" font-weight="bold" text-anchor="middle" fill="#5548f0" font-family="&quot;Liberation Sans&quot;, sans-serif">(2)</text>
<text x="181.4" y="253.6" font-size="9.9" font-weight="bold" text-anchor="middle" fill="#5548f0" font-family="&quot;Liberation Sans&quot;, sans-serif">(3)</text>
<rect x="139.5" y="192.5" width="71" height="16" fill="#fff" stroke="#707070" stroke-width="0.8"/>
<path d="M147.45,196.90a1.55,1.55 0 1,0 3.1,0a1.55,1.55 0 1,0 -3.1,0" fill="none" stroke="#0000ff" stroke-width="1.1"/>
<path d="M147.95,203.15h2.1v2.1h-2.1z" fill="#000"/>
<text x="157.6" y="198.7" font-size="5.9" fill="#1a1a1a" stroke="#1a1a1a" stroke-width="0.15" font-family="&quot;Liberation Sans&quot;, sans-serif">ToP</text>
<text x="157.6" y="206.0" font-size="5.9" fill="#1a1a1a" stroke="#1a1a1a" stroke-width="0.15" font-family="&quot;Liberation Sans&quot;, sans-serif">non-Euclidean ToP</text>
<rect x="281.3" y="186.5" width="179.7" height="141.3" fill="none" stroke="#848484" stroke-width="1.0"/>
<line x1="281.3" y1="327.8" x2="281.3" y2="325.8" stroke="#777" stroke-width="0.7"/>
<line x1="281.3" y1="186.5" x2="281.3" y2="188.5" stroke="#777" stroke-width="0.7"/>
<text transform="translate(281.3,336.7) scale(0.09514,0.10571)" font-size="70" text-anchor="middle" fill="#1a1a1a" stroke="#1a1a1a" stroke-width="2.08" font-family="&quot;Liberation Sans&quot;, sans-serif">0</text>
<line x1="312.675" y1="327.8" x2="312.675" y2="325.8" stroke="#777" stroke-width="0.7"/>
<line x1="312.675" y1="186.5" x2="312.675" y2="188.5" stroke="#777" stroke-width="0.7"/>
<text transform="translate(312.675,336.7) scale(0.09514,0.10571)" font-size="70" text-anchor="middle" fill="#1a1a1a" stroke="#1a1a1a" stroke-width="2.08" font-family="&quot;Liberation Sans&quot;, sans-serif">5</text>
<line x1="344.05" y1="327.8" x2="344.05" y2="325.8" stroke="#777" stroke-width="0.7"/>
<line x1="344.05" y1="186.5" x2="344.05" y2="188.5" stroke="#777" stroke-width="0.7"/>
<text transform="translate(344.05,336.7) scale(0.09514,0.10571)" font-size="70" text-anchor="middle" fill="#1a1a1a" stroke="#1a1a1a" stroke-width="2.08" font-family="&quot;Liberation Sans&quot;, sans-serif">10</text>
<line x1="375.425" y1="327.8" x2="375.425" y2="325.8" stroke="#777" stroke-width="0.7"/>
<line x1="375.425" y1="186.5" x2="375.425" y2="188.5" stroke="#777" stroke-width="0.7"/>
<text transform="translate(375.425,336.7) scale(0.09514,0.10571)" font-size="70" text-anchor="middle" fill="#1a1a1a" stroke="#1a1a1a" stroke-width="2.08" font-family="&quot;Liberation Sans&quot;, sans-serif">15</text>
<line x1="406.8" y1="327.8" x2="406.8" y2="325.8" stroke="#777" stroke-width="0.7"/>
<line x1="406.8" y1="186.5" x2="406.8" y2="188.5" stroke="#777" stroke-width="0.7"/>
<text transform="translate(406.8,336.7) scale(0.09514,0.10571)" font-size="70" text-anchor="middle" fill="#1a1a1a" stroke="#1a1a1a" stroke-width="2.08" font-family="&quot;Liberation Sans&quot;, sans-serif">20</text>
<line x1="438.175" y1="327.8" x2="438.175" y2="325.8" stroke="#777" stroke-width="0.7"/>
<line x1="438.175" y1="186.5" x2="438.175" y2="188.5" stroke="#777" stroke-width="0.7"/>
<text transform="translate(438.175,336.7) scale(0.09514,0.10571)" font-size="70" text-anchor="middle" fill="#1a1a1a" stroke="#1a1a1a" stroke-width="2.08" font-family="&quot;Liberation Sans&quot;, sans-serif">25</text>
<line x1="281.3" y1="321.5" x2="283.3" y2="321.5" stroke="#777" stroke-width="0.7"/>
<line x1="461.0" y1="321.5" x2="459.0" y2="321.5" stroke="#777" stroke-width="0.7"/>
<text transform="translate(278.4,324.45) scale(0.09514,0.10571)" font-size="70" text-anchor="end" fill="#1a1a1a" stroke="#1a1a1a" stroke-width="2.08" font-family="&quot;Liberation Sans&quot;, sans-serif">-1</text>
<line x1="281.3" y1="292.95" x2="283.3" y2="292.95" stroke="#777" stroke-width="0.7"/>
<line x1="461.0" y1="292.95" x2="459.0" y2="292.95" stroke="#777" stroke-width="0.7"/>
<text transform="translate(278.4,295.9) scale(0.09514,0.10571)" font-size="70" text-anchor="end" fill="#1a1a1a" stroke="#1a1a1a" stroke-width="2.08" font-family="&quot;Liberation Sans&quot;, sans-serif">-0.5</text>
<line x1="281.3" y1="264.4" x2="283.3" y2="264.4" stroke="#777" stroke-width="0.7"/>
<line x1="461.0" y1="264.4" x2="459.0" y2="264.4" stroke="#777" stroke-width="0.7"/>
<text transform="translate(278.4,267.34999999999997) scale(0.09514,0.10571)" font-size="70" text-anchor="end" fill="#1a1a1a" stroke="#1a1a1a" stroke-width="2.08" font-family="&quot;Liberation Sans&quot;, sans-serif">0</text>
<line x1="281.3" y1="235.84999999999997" x2="283.3" y2="235.84999999999997" stroke="#777" stroke-width="0.7"/>
<line x1="461.0" y1="235.84999999999997" x2="459.0" y2="235.84999999999997" stroke="#777" stroke-width="0.7"/>
<text transform="translate(278.4,238.79999999999995) scale(0.09514,0.10571)" font-size="70" text-anchor="end" fill="#1a1a1a" stroke="#1a1a1a" stroke-width="2.08" font-family="&quot;Liberation Sans&quot;, sans-serif">0.5</text>
<line x1="281.3" y1="207.29999999999998" x2="283.3" y2="207.29999999999998" stroke="#777" stroke-width="0.7"/>
<line x1="461.0" y1="207.29999999999998" x2="459.0" y2="207.29999999999998" stroke="#777" stroke-width="0.7"/>
<text transform="translate(278.4,210.24999999999997) scale(0.09514,0.10571)" font-size="70" text-anchor="end" fill="#1a1a1a" stroke="#1a1a1a" stroke-width="2.08" font-family="&quot;Liberation Sans&quot;, sans-serif">1</text>
<text x="371.2" y="345.0" font-size="7.2" text-anchor="middle" fill="#1a1a1a" stroke="#1a1a1a" stroke-width="0.22" font-family="&quot;Liberation Sans&quot;, sans-serif">time [s]</text>
<text transform="translate(263.6,257.0) rotate(-90)" x="0" y="0" font-size="7.2" text-anchor="middle" fill="#1a1a1a" stroke="#1a1a1a" stroke-width="0.22" font-family="&quot;Liberation Sans&quot;, sans-serif">velocity 1st princ. comp.</text>
<path d="M286.40,251.46a1.55,1.55 0 1,0 3.1,0a1.55,1.55 0 1,0 -3.1,0M287.17,248.58a1.55,1.55 0 1,0 3.1,0a1.55,1.55 0 1,0 -3.1,0M288.18,245.05a1.55,1.55 0 1,0 3.1,0a1.55,1.55 0 1,0 -3.1,0M289.02,241.67a1.55,1.55 0 1,0 3.1,0a1.55,1.55 0 1,0 -3.1,0M289.94,240.35a1.55,1.55 0 1,0 3.1,0a1.55,1.55 0 1,0 -3.1,0M290.81,238.99a1.55,1.55 0 1,0 3.1,0a1.55,1.55 0 1,0 -3.1,0M291.69,237.41a1.55,1.55 0 1,0 3.1,0a1.55,1.55 0 1,0 -3.1,0M292.26,236.60a1.55,1.55 0 1,0 3.1,0a1.55,1.55 0 1,0 -3.1,0M293.34,237.20a1.55,1.55 0 1,0 3.1,0a1.55,1.55 0 1,0 -3.1,0M294.16,239.54a1.55,1.55 0 1,0 3.1,0a1.55,1.55 0 1,0 -3.1,0M294.77,241.57a1.55,1.55 0 1,0 3.1,0a1.55,1.55 0 1,0 -3.1,0M295.61,244.73a1.55,1.55 0 1,0 3.1,0a1.55,1.55 0 1,0 -3.1,0M296.79,246.43a1.55,1.55 0 1,0 3.1,0a1.55,1.55 0 1,0 -3.1,0M297.59,252.70a1.55,1.55 0 1,0 3.1,0a1.55,1.55 0 1,0 -3.1,0M298.20,257.19a1.55,1.55 0 1,0 3.1,0a1.55,1.55 0 1,0 -3.1,0M299.05,261.60a1.55,1.55 0 1,0 3.1,0a1.55,1.55 0 1,0 -3.1,0M300.13,265.96a1.55,1.55 0 1,0 3.1,0a1.55,1.55 0 1,0 -3.1,0M300.72,268.89a1.55,1.55 0 1,0 3.1,0a1.55,1.55 0 1,0 -3.1,0M301.80,273.72a1.55,1.55 0 1,0 3.1,0a1.55,1.55 0 1,0 -3.1,0M302.47,278.53a1.55,1.55 0 1,0 3.1,0a1.55,1.55 0 1,0 -3.1,0M303.59,281.60a1.55,1.55 0 1,0 3.1,0a1.55,1.55 0 1,0 -3.1,0M304.16,286.59a1.55,1.55 0 1,0 3.1,0a1.55,1.55 0 1,0 -3.1,0M305.11,290.83a1.55,1.55 0 1,0 3.1,0a1.55,1.55 0 1,0 -3.1,0M306.00,294.54a1.55,1.55 0 1,0 3.1,0a1.55,1.55 0 1,0 -3.1,0M306.66,297.87a1.55,1.55 0 1,0 3.1,0a1.55,1.55 0 1,0 -3.1,0M307.68,302.46a1.55,1.55 0 1,0 3.1,0a1.55,1.55 0 1,0 -3.1,0M308.52,305.89a1.55,1.55 0 1,0 3.1,0a1.55,1.55 0 1,0 -3.1,0M309.42,309.56a1.55,1.55 0 1,0 3.1,0a1.55,1.55 0 1,0 -3.1,0M310.31,310.49a1.55,1.55 0 1,0 3.1,0a1.55,1.55 0 1,0 -3.1,0M310.96,310.26a1.55,1.55 0 1,0 3.1,0a1.55,1.55 0 1,0 -3.1,0M311.77,309.72a1.55,1.55 0 1,0 3.1,0a1.55,1.55 0 1,0 -3.1,0M312.95,306.67a1.55,1.55 0 1,0 3.1,0a1.55,1.55 0 1,0 -3.1,0M313.49,303.65a1.55,1.55 0 1,0 3.1,0a1.55,1.55 0 1,0 -3.1,0M314.35,301.28a1.55,1.55 0 1,0 3.1,0a1.55,1.55 0 1,0 -3.1,0M315.41,298.43a1.55,1.55 0 1,0 3.1,0a1.55,1.55 0 1,0 -3.1,0M316.24,295.50a1.55,1.55 0 1,0 3.1,0a1.55,1.55 0 1,0 -3.1,0M317.19,294.42a1.55,1.55 0 1,0 3.1,0a1.55,1.55 0 1,0 -3.1,0M317.80,291.25a1.55,1.55 0 1,0 3.1,0a1.55,1.55 0 1,0 -3.1,0M318.84,289.46a1.55,1.55 0 1,0 3.1,0a1.55,1.55 0 1,0 -3.1,0M319.56,286.45a1.55,1.55 0 1,0 3.1,0a1.55,1.55 0 1,0 -3.1,0M320.64,283.55a1.55,1.55 0 1,0 3.1,0a1.55,1.55 0 1,0 -3.1,0M321.18,282.67a1.55,1.55 0 1,0 3.1,0a1.55,1.55 0 1,0 -3.1,0M322.06,281.39a1.55,1.55 0 1,0 3.1,0a1.55,1.55 0 1,0 -3.1,0M322.93,279.75a1.55,1.55 0 1,0 3.1,0a1.55,1.55 0 1,0 -3.1,0M323.80,277.97a1.55,1.55 0 1,0 3.1,0a1.55,1.55 0 1,0 -3.1,0M324.80,276.09a1.55,1.55 0 1,0 3.1,0a1.55,1.55 0 1,0 -3.1,0M325.44,273.68a1.55,1.55 0 1,0 3.1,0a1.55,1.55 0 1,0 -3.1,0M326.21,272.44a1.55,1.55 0 1,0 3.1,0a1.55,1.55 0 1,0 -3.1,0M327.32,270.93a1.55,1.55 0 1,0 3.1,0a1.55,1.55 0 1,0 -3.1,0M327.99,270.66a1.55,1.55 0 1,0 3.1,0a1.55,1.55 0 1,0 -3.1,0M328.81,268.91a1.55,1.55 0 1,0 3.1,0a1.55,1.55 0 1,0 -3.1,0M329.69,268.33a1.55,1.55 0 1,0 3.1,0a1.55,1.55 0 1,0 -3.1,0M330.50,267.70a1.55,1.55 0 1,0 3.1,0a1.55,1.55 0 1,0 -3.1,0M331.54,265.85a1.55,1.55 0 1,0 3.1,0a1.55,1.55 0 1,0 -3.1,0M332.37,264.15a1.55,1.55 0 1,0 3.1,0a1.55,1.55 0 1,0 -3.1,0M333.39,264.04a1.55,1.55 0 1,0 3.1,0a1.55,1.55 0 1,0 -3.1,0M334.18,261.46a1.55,1.55 0 1,0 3.1,0a1.55,1.55 0 1,0 -3.1,0M334.94,262.55a1.55,1.55 0 1,0 3.1,0a1.55,1.55 0 1,0 -3.1,0M335.81,261.05a1.55,1.55 0 1,0 3.1,0a1.55,1.55 0 1,0 -3.1,0M336.66,259.78a1.55,1.55 0 1,0 3.1,0a1.55,1.55 0 1,0 -3.1,0M337.54,260.57a1.55,1.55 0 1,0 3.1,0a1.55,1.55 0 1,0 -3.1,0M338.13,259.59a1.55,1.55 0 1,0 3.1,0a1.55,1.55 0 1,0 -3.1,0M339.19,258.85a1.55,1.55 0 1,0 3.1,0a1.55,1.55 0 1,0 -3.1,0M340.07,259.57a1.55,1.55 0 1,0 3.1,0a1.55,1.55 0 1,0 -3.1,0M341.01,257.87a1.55,1.55 0 1,0 3.1,0a1.55,1.55 0 1,0 -3.1,0M341.56,258.43a1.55,1.55 0 1,0 3.1,0a1.55,1.55 0 1,0 -3.1,0M342.59,257.85a1.55,1.55 0 1,0 3.1,0a1.55,1.55 0 1,0 -3.1,0M343.55,255.06a1.55,1.55 0 1,0 3.1,0a1.55,1.55 0 1,0 -3.1,0M344.28,252.11a1.55,1.55 0 1,0 3.1,0a1.55,1.55 0 1,0 -3.1,0M345.22,248.26a1.55,1.55 0 1,0 3.1,0a1.55,1.55 0 1,0 -3.1,0M345.85,242.00a1.55,1.55 0 1,0 3.1,0a1.55,1.55 0 1,0 -3.1,0M346.84,237.22a1.55,1.55 0 1,0 3.1,0a1.55,1.55 0 1,0 -3.1,0M347.52,233.28a1.55,1.55 0 1,0 3.1,0a1.55,1.55 0 1,0 -3.1,0M348.33,228.79a1.55,1.55 0 1,0 3.1,0a1.55,1.55 0 1,0 -3.1,0M349.53,223.81a1.55,1.55 0 1,0 3.1,0a1.55,1.55 0 1,0 -3.1,0M350.02,218.15a1.55,1.55 0 1,0 3.1,0a1.55,1.55 0 1,0 -3.1,0M351.14,212.82a1.55,1.55 0 1,0 3.1,0a1.55,1.55 0 1,0 -3.1,0M351.71,208.42a1.55,1.55 0 1,0 3.1,0a1.55,1.55 0 1,0 -3.1,0M352.63,204.54a1.55,1.55 0 1,0 3.1,0a1.55,1.55 0 1,0 -3.1,0M353.53,200.13a1.55,1.55 0 1,0 3.1,0a1.55,1.55 0 1,0 -3.1,0M354.32,197.74a1.55,1.55 0 1,0 3.1,0a1.55,1.55 0 1,0 -3.1,0M355.19,194.71a1.55,1.55 0 1,0 3.1,0a1.55,1.55 0 1,0 -3.1,0M356.16,192.39a1.55,1.55 0 1,0 3.1,0a1.55,1.55 0 1,0 -3.1,0M357.06,196.36a1.55,1.55 0 1,0 3.1,0a1.55,1.55 0 1,0 -3.1,0M357.66,202.05a1.55,1.55 0 1,0 3.1,0a1.55,1.55 0 1,0 -3.1,0M358.61,207.05a1.55,1.55 0 1,0 3.1,0a1.55,1.55 0 1,0 -3.1,0M359.66,214.95a1.55,1.55 0 1,0 3.1,0a1.55,1.55 0 1,0 -3.1,0M360.35,220.10a1.55,1.55 0 1,0 3.1,0a1.55,1.55 0 1,0 -3.1,0M361.26,226.79a1.55,1.55 0 1,0 3.1,0a1.55,1.55 0 1,0 -3.1,0M362.18,231.23a1.55,1.55 0 1,0 3.1,0a1.55,1.55 0 1,0 -3.1,0M362.98,235.94a1.55,1.55 0 1,0 3.1,0a1.55,1.55 0 1,0 -3.1,0M363.68,236.94a1.55,1.55 0 1,0 3.1,0a1.55,1.55 0 1,0 -3.1,0M364.64,239.88a1.55,1.55 0 1,0 3.1,0a1.55,1.55 0 1,0 -3.1,0M365.62,241.53a1.55,1.55 0 1,0 3.1,0a1.55,1.55 0 1,0 -3.1,0M366.33,242.53a1.55,1.55 0 1,0 3.1,0a1.55,1.55 0 1,0 -3.1,0M367.04,243.18a1.55,1.55 0 1,0 3.1,0a1.55,1.55 0 1,0 -3.1,0M367.88,245.43a1.55,1.55 0 1,0 3.1,0a1.55,1.55 0 1,0 -3.1,0M369.10,246.46a1.55,1.55 0 1,0 3.1,0a1.55,1.55 0 1,0 -3.1,0M369.85,247.34a1.55,1.55 0 1,0 3.1,0a1.55,1.55 0 1,0 -3.1,0M370.72,248.47a1.55,1.55 0 1,0 3.1,0a1.55,1.55 0 1,0 -3.1,0M371.40,250.70a1.55,1.55 0 1,0 3.1,0a1.55,1.55 0 1,0 -3.1,0M372.45,252.05a1.55,1.55 0 1,0 3.1,0a1.55,1.55 0 1,0 -3.1,0M373.01,253.58a1.55,1.55 0 1,0 3.1,0a1.55,1.55 0 1,0 -3.1,0M374.14,255.76a1.55,1.55 0 1,0 3.1,0a1.55,1.55 0 1,0 -3.1,0M375.01,258.03a1.55,1.55 0 1,0 3.1,0a1.55,1.55 0 1,0 -3.1,0M375.83,260.22a1.55,1.55 0 1,0 3.1,0a1.55,1.55 0 1,0 -3.1,0M376.71,264.61a1.55,1.55 0 1,0 3.1,0a1.55,1.55 0 1,0 -3.1,0M377.55,266.88a1.55,1.55 0 1,0 3.1,0a1.55,1.55 0 1,0 -3.1,0M378.41,270.16a1.55,1.55 0 1,0 3.1,0a1.55,1.55 0 1,0 -3.1,0M379.29,272.80a1.55,1.55 0 1,0 3.1,0a1.55,1.55 0 1,0 -3.1,0M380.09,277.94a1.55,1.55 0 1,0 3.1,0a1.55,1.55 0 1,0 -3.1,0M380.74,280.64a1.55,1.55 0 1,0 3.1,0a1.55,1.55 0 1,0 -3.1,0M381.81,284.74a1.55,1.55 0 1,0 3.1,0a1.55,1.55 0 1,0 -3.1,0M382.51,288.97a1.55,1.55 0 1,0 3.1,0a1.55,1.55 0 1,0 -3.1,0M383.34,291.10a1.55,1.55 0 1,0 3.1,0a1.55,1.55 0 1,0 -3.1,0M384.27,294.73a1.55,1.55 0 1,0 3.1,0a1.55,1.55 0 1,0 -3.1,0M384.96,297.32a1.55,1.55 0 1,0 3.1,0a1.55,1.55 0 1,0 -3.1,0M386.06,298.69a1.55,1.55 0 1,0 3.1,0a1.55,1.55 0 1,0 -3.1,0M386.88,301.97a1.55,1.55 0 1,0 3.1,0a1.55,1.55 0 1,0 -3.1,0M387.61,302.36a1.55,1.55 0 1,0 3.1,0a1.55,1.55 0 1,0 -3.1,0M388.52,303.81a1.55,1.55 0 1,0 3.1,0a1.55,1.55 0 1,0 -3.1,0M389.20,305.88a1.55,1.55 0 1,0 3.1,0a1.55,1.55 0 1,0 -3.1,0M390.06,304.78a1.55,1.55 0 1,0 3.1,0a1.55,1.55 0 1,0 -3.1,0M391.14,306.96a1.55,1.55 0 1,0 3.1,0a1.55,1.55 0 1,0 -3.1,0M391.77,305.36a1.55,1.55 0 1,0 3.1,0a1.55,1.55 0 1,0 -3.1,0M392.72,305.63a1.55,1.55 0 1,0 3.1,0a1.55,1.55 0 1,0 -3.1,0M393.35,301.70a1.55,1.55 0 1,0 3.1,0a1.55,1.55 0 1,0 -3.1,0M394.29,296.71a1.55,1.55 0 1,0 3.1,0a1.55,1.55 0 1,0 -3.1,0M395.22,292.49a1.55,1.55 0 1,0 3.1,0a1.55,1.55 0 1,0 -3.1,0M396.08,290.78a1.55,1.55 0 1,0 3.1,0a1.55,1.55 0 1,0 -3.1,0M396.77,291.41a1.55,1.55 0 1,0 3.1,0a1.55,1.55 0 1,0 -3.1,0M397.72,295.14a1.55,1.55 0 1,0 3.1,0a1.55,1.55 0 1,0 -3.1,0M398.52,297.71a1.55,1.55 0 1,0 3.1,0a1.55,1.55 0 1,0 -3.1,0M399.34,300.03a1.55,1.55 0 1,0 3.1,0a1.55,1.55 0 1,0 -3.1,0M400.54,298.91a1.55,1.55 0 1,0 3.1,0a1.55,1.55 0 1,0 -3.1,0M401.25,296.46a1.55,1.55 0 1,0 3.1,0a1.55,1.55 0 1,0 -3.1,0M402.14,290.80a1.55,1.55 0 1,0 3.1,0a1.55,1.55 0 1,0 -3.1,0M402.88,285.73a1.55,1.55 0 1,0 3.1,0a1.55,1.55 0 1,0 -3.1,0M403.91,283.59a1.55,1.55 0 1,0 3.1,0a1.55,1.55 0 1,0 -3.1,0M404.72,279.78a1.55,1.55 0 1,0 3.1,0a1.55,1.55 0 1,0 -3.1,0M405.58,276.92a1.55,1.55 0 1,0 3.1,0a1.55,1.55 0 1,0 -3.1,0M406.49,273.14a1.55,1.55 0 1,0 3.1,0a1.55,1.55 0 1,0 -3.1,0M406.96,270.09a1.55,1.55 0 1,0 3.1,0a1.55,1.55 0 1,0 -3.1,0M408.03,265.55a1.55,1.55 0 1,0 3.1,0a1.55,1.55 0 1,0 -3.1,0M408.82,259.24a1.55,1.55 0 1,0 3.1,0a1.55,1.55 0 1,0 -3.1,0M409.51,251.99a1.55,1.55 0 1,0 3.1,0a1.55,1.55 0 1,0 -3.1,0M410.60,250.07a1.55,1.55 0 1,0 3.1,0a1.55,1.55 0 1,0 -3.1,0M411.57,251.46a1.55,1.55 0 1,0 3.1,0a1.55,1.55 0 1,0 -3.1,0M412.40,251.01a1.55,1.55 0 1,0 3.1,0a1.55,1.55 0 1,0 -3.1,0M413.05,254.84a1.55,1.55 0 1,0 3.1,0a1.55,1.55 0 1,0 -3.1,0M413.90,259.24a1.55,1.55 0 1,0 3.1,0a1.55,1.55 0 1,0 -3.1,0M414.97,261.40a1.55,1.55 0 1,0 3.1,0a1.55,1.55 0 1,0 -3.1,0M415.66,262.42a1.55,1.55 0 1,0 3.1,0a1.55,1.55 0 1,0 -3.1,0M416.57,263.68a1.55,1.55 0 1,0 3.1,0a1.55,1.55 0 1,0 -3.1,0M417.22,266.77a1.55,1.55 0 1,0 3.1,0a1.55,1.55 0 1,0 -3.1,0M418.11,267.04a1.55,1.55 0 1,0 3.1,0a1.55,1.55 0 1,0 -3.1,0M419.05,268.38a1.55,1.55 0 1,0 3.1,0a1.55,1.55 0 1,0 -3.1,0M419.91,270.22a1.55,1.55 0 1,0 3.1,0a1.55,1.55 0 1,0 -3.1,0M420.88,271.31a1.55,1.55 0 1,0 3.1,0a1.55,1.55 0 1,0 -3.1,0M421.72,272.11a1.55,1.55 0 1,0 3.1,0a1.55,1.55 0 1,0 -3.1,0M422.57,273.60a1.55,1.55 0 1,0 3.1,0a1.55,1.55 0 1,0 -3.1,0M423.48,268.38a1.55,1.55 0 1,0 3.1,0a1.55,1.55 0 1,0 -3.1,0M424.34,264.06a1.55,1.55 0 1,0 3.1,0a1.55,1.55 0 1,0 -3.1,0M424.94,261.23a1.55,1.55 0 1,0 3.1,0a1.55,1.55 0 1,0 -3.1,0M425.85,260.46a1.55,1.55 0 1,0 3.1,0a1.55,1.55 0 1,0 -3.1,0M426.72,264.15a1.55,1.55 0 1,0 3.1,0a1.55,1.55 0 1,0 -3.1,0M427.66,263.29a1.55,1.55 0 1,0 3.1,0a1.55,1.55 0 1,0 -3.1,0M428.24,264.93a1.55,1.55 0 1,0 3.1,0a1.55,1.55 0 1,0 -3.1,0M429.20,264.70a1.55,1.55 0 1,0 3.1,0a1.55,1.55 0 1,0 -3.1,0M429.96,261.99a1.55,1.55 0 1,0 3.1,0a1.55,1.55 0 1,0 -3.1,0M431.13,263.68a1.55,1.55 0 1,0 3.1,0a1.55,1.55 0 1,0 -3.1,0M431.67,262.41a1.55,1.55 0 1,0 3.1,0a1.55,1.55 0 1,0 -3.1,0M432.67,261.56a1.55,1.55 0 1,0 3.1,0a1.55,1.55 0 1,0 -3.1,0M433.39,261.10a1.55,1.55 0 1,0 3.1,0a1.55,1.55 0 1,0 -3.1,0M434.35,262.64a1.55,1.55 0 1,0 3.1,0a1.55,1.55 0 1,0 -3.1,0M435.14,263.11a1.55,1.55 0 1,0 3.1,0a1.55,1.55 0 1,0 -3.1,0M435.99,262.95a1.55,1.55 0 1,0 3.1,0a1.55,1.55 0 1,0 -3.1,0M437.01,261.98a1.55,1.55 0 1,0 3.1,0a1.55,1.55 0 1,0 -3.1,0M437.59,262.96a1.55,1.55 0 1,0 3.1,0a1.55,1.55 0 1,0 -3.1,0M438.52,262.86a1.55,1.55 0 1,0 3.1,0a1.55,1.55 0 1,0 -3.1,0M439.59,264.53a1.55,1.55 0 1,0 3.1,0a1.55,1.55 0 1,0 -3.1,0M440.43,264.22a1.55,1.55 0 1,0 3.1,0a1.55,1.55 0 1,0 -3.1,0M441.04,261.97a1.55,1.55 0 1,0 3.1,0a1.55,1.55 0 1,0 -3.1,0M441.84,261.85a1.55,1.55 0 1,0 3.1,0a1.55,1.55 0 1,0 -3.1,0M442.75,261.76a1.55,1.55 0 1,0 3.1,0a1.55,1.55 0 1,0 -3.1,0M443.63,264.67a1.55,1.55 0 1,0 3.1,0a1.55,1.55 0 1,0 -3.1,0M444.56,264.57a1.55,1.55 0 1,0 3.1,0a1.55,1.55 0 1,0 -3.1,0M445.41,263.76a1.55,1.55 0 1,0 3.1,0a1.55,1.55 0 1,0 -3.1,0M446.32,262.92a1.55,1.55 0 1,0 3.1,0a1.55,1.55 0 1,0 -3.1,0M447.27,262.71a1.55,1.55 0 1,0 3.1,0a1.55,1.55 0 1,0 -3.1,0M447.95,261.04a1.55,1.55 0 1,0 3.1,0a1.55,1.55 0 1,0 -3.1,0M448.64,261.77a1.55,1.55 0 1,0 3.1,0a1.55,1.55 0 1,0 -3.1,0M449.61,260.69a1.55,1.55 0 1,0 3.1,0a1.55,1.55 0 1,0 -3.1,0M450.68,260.36a1.55,1.55 0 1,0 3.1,0a1.55,1.55 0 1,0 -3.1,0M451.33,261.40a1.55,1.55 0 1,0 3.1,0a1.55,1.55 0 1,0 -3.1,0M408.05,250.00a1.55,1.55 0 1,0 3.1,0a1.55,1.55 0 1,0 -3.1,0M409.45,250.00a1.55,1.55 0 1,0 3.1,0a1.55,1.55 0 1,0 -3.1,0M410.95,250.50a1.55,1.55 0 1,0 3.1,0a1.55,1.55 0 1,0 -3.1,0M412.25,251.50a1.55,1.55 0 1,0 3.1,0a1.55,1.55 0 1,0 -3.1,0" fill="none" stroke="#0000ff" stroke-width="1.1"/>
<line x1="282" y1="264.5" x2="461" y2="264.5" stroke="#000" stroke-width="1" stroke-dasharray="1,1"/>
<text x="309.85" y="257.6" font-size="9.9" font-weight="bold" text-anchor="middle" fill="#5548f0" font-family="&quot;Liberation Sans&quot;, sans-serif">(1)</text>
<text x="342.0" y="277.0" font-size="9.9" font-weight="bold" text-anchor="middle" fill="#5548f0" font-family="&quot;Liberation Sans&quot;, sans-serif">(2)</text>
<text x="387.0" y="258.25" font-size="9.9" font-weight="bold" text-anchor="middle" fill="#5548f0" font-family="&quot;Liberation Sans&quot;, sans-serif">(3)</text>
<clipPath id="cc"><rect x="513" y="60" width="155" height="32"/></clipPath>
<g clip-path="url(#cc)">
<rect x="513" y="60" width="155" height="32" fill="#0206da"/>
<g filter="url(#bl)">
<polyline points="513,69.5 530,72 548,74 575,76.3 597,78.8 630,81 668,85" fill="none" stroke="#0a20e0" stroke-width="1.4"/>
<line x1="575" y1="76.3" x2="582" y2="76.6" stroke="#10a0ff" stroke-width="1.2"/>
<polyline points="516.30,69.80 522.00,70.40 526.30,71.10" fill="none" stroke="#0a50ff" stroke-width="6.60" stroke-linecap="round" stroke-linejoin="round"/><polyline points="516.30,69.80 522.00,70.40 526.30,71.10" fill="none" stroke="#00c0ff" stroke-width="5.70" stroke-linecap="round" stroke-linejoin="round"/><polyline points="516.30,69.80 522.00,70.40 526.30,71.10" fill="none" stroke="#40ffd0" stroke-width="4.80" stroke-linecap="round" stroke-linejoin="round"/><polyline points="516.30,69.80 522.00,70.40 526.30,71.10" fill="none" stroke="#c0ff40" stroke-width="3.90" stroke-linecap="round" stroke-linejoin="round"/><polyline points="516.30,69.80 522.00,70.40 526.30,71.10" fill="none" stroke="#ffe800" stroke-width="3.20" stroke-linecap="round" stroke-linejoin="round"/><polyline points="516.30,69.80 522.00,70.40 526.30,71.10" fill="none" stroke="#ff9000" stroke-width="2.60" stroke-linecap="round" stroke-linejoin="round"/><polyline points="516.30,69.80 522.00,70.40 526.30,71.10" fill="none" stroke="#ff2000" stroke-width="2.00" stroke-linecap="round" stroke-linejoin="round"/><polyline points="516.30,69.80 522.00,70.40 526.30,71.10" fill="none" stroke="#c00000" stroke-width="0.40" stroke-linecap="round" stroke-linejoin="round"/>
<circle cx="516.3" cy="69.9" r="1.2" fill="#a00000"/><circle cx="526.3" cy="71.2" r="1.2" fill="#a00000"/>
<polyline points="551.00,72.70 560.00,73.80 568.00,74.90" fill="none" stroke="#0a50ff" stroke-width="6.60" stroke-linecap="round" stroke-linejoin="round"/><polyline points="551.00,72.70 560.00,73.80 568.00,74.90" fill="none" stroke="#00c0ff" stroke-width="5.70" stroke-linecap="round" stroke-linejoin="round"/><polyline points="551.00,72.70 560.00,73.80 568.00,74.90" fill="none" stroke="#40ffd0" stroke-width="4.80" stroke-linecap="round" stroke-linejoin="round"/><polyline points="551.00,72.70 560.00,73.80 568.00,74.90" fill="none" stroke="#c0ff40" stroke-width="3.90" stroke-linecap="round" stroke-linejoin="round"/><polyline points="551.00,72.70 560.00,73.80 568.00,74.90" fill="none" stroke="#ffe800" stroke-width="3.20" stroke-linecap="round" stroke-linejoin="round"/><polyline points="551.00,72.70 560.00,73.80 568.00,74.90" fill="none" stroke="#ff9000" stroke-width="2.60" stroke-linecap="round" stroke-linejoin="round"/><polyline points="551.00,72.70 560.00,73.80 568.00,74.90" fill="none" stroke="#ff2000" stroke-width="2.00" stroke-linecap="round" stroke-linejoin="round"/><polyline points="551.00,72.70 560.00,73.80 568.00,74.90" fill="none" stroke="#c00000" stroke-width="0.40" stroke-linecap="round" stroke-linejoin="round"/>
<circle cx="551" cy="72.8" r="1.1" fill="#a00000"/><circle cx="567.8" cy="74.9" r="1.3" fill="#a00000"/>
<polyline points="586.30,76.90 587.60,77.40" fill="none" stroke="#0a50ff" stroke-width="6.80" stroke-linecap="round" stroke-linejoin="round"/><polyline points="586.30,76.90 587.60,77.40" fill="none" stroke="#00c0ff" stroke-width="5.90" stroke-linecap="round" stroke-linejoin="round"/><polyline points="586.30,76.90 587.60,77.40" fill="none" stroke="#40ffd0" stroke-width="5.00" stroke-linecap="round" stroke-linejoin="round"/><polyline points="586.30,76.90 587.60,77.40" fill="none" stroke="#c0ff40" stroke-width="4.10" stroke-linecap="round" stroke-linejoin="round"/><polyline points="586.30,76.90 587.60,77.40" fill="none" stroke="#ffe800" stroke-width="3.40" stroke-linecap="round" stroke-linejoin="round"/><polyline points="586.30,76.90 587.60,77.40" fill="none" stroke="#ff9000" stroke-width="2.80" stroke-linecap="round" stroke-linejoin="round"/><polyline points="586.30,76.90 587.60,77.40" fill="none" stroke="#ff2000" stroke-width="2.20" stroke-linecap="round" stroke-linejoin="round"/><polyline points="586.30,76.90 587.60,77.40" fill="none" stroke="#c00000" stroke-width="0.60" stroke-linecap="round" stroke-linejoin="round"/>
<circle cx="587" cy="77.3" r="1.1" fill="#a00000"/>
<polyline points="600.00,77.90 605.00,78.50 610.50,79.40" fill="none" stroke="#0a50ff" stroke-width="6.60" stroke-linecap="round" stroke-linejoin="round"/><polyline points="600.00,77.90 605.00,78.50 610.50,79.40" fill="none" stroke="#00c0ff" stroke-width="5.70" stroke-linecap="round" stroke-linejoin="round"/><polyline points="600.00,77.90 605.00,78.50 610.50,79.40" fill="none" stroke="#40ffd0" stroke-width="4.80" stroke-linecap="round" stroke-linejoin="round"/><polyline points="600.00,77.90 605.00,78.50 610.50,79.40" fill="none" stroke="#c0ff40" stroke-width="3.90" stroke-linecap="round" stroke-linejoin="round"/><polyline points="600.00,77.90 605.00,78.50 610.50,79.40" fill="none" stroke="#ffe800" stroke-width="3.20" stroke-linecap="round" stroke-linejoin="round"/><polyline points="600.00,77.90 605.00,78.50 610.50,79.40" fill="none" stroke="#ff9000" stroke-width="2.60" stroke-linecap="round" stroke-linejoin="round"/><polyline points="600.00,77.90 605.00,78.50 610.50,79.40" fill="none" stroke="#ff2000" stroke-width="2.00" stroke-linecap="round" stroke-linejoin="round"/><polyline points="600.00,77.90 605.00,78.50 610.50,79.40" fill="none" stroke="#c00000" stroke-width="0.40" stroke-linecap="round" stroke-linejoin="round"/>
<circle cx="600.3" cy="78" r="1.0" fill="#a00000"/><circle cx="610.3" cy="79.4" r="1.2" fill="#a00000"/>
<polyline points="633.00,80.70 642.00,81.80 651.50,83.10" fill="none" stroke="#0a50ff" stroke-width="6.60" stroke-linecap="round" stroke-linejoin="round"/><polyline points="633.00,80.70 642.00,81.80 651.50,83.10" fill="none" stroke="#00c0ff" stroke-width="5.70" stroke-linecap="round" stroke-linejoin="round"/><polyline points="633.00,80.70 642.00,81.80 651.50,83.10" fill="none" stroke="#40ffd0" stroke-width="4.80" stroke-linecap="round" stroke-linejoin="round"/><polyline points="633.00,80.70 642.00,81.80 651.50,83.10" fill="none" stroke="#c0ff40" stroke-width="3.90" stroke-linecap="round" stroke-linejoin="round"/><polyline points="633.00,80.70 642.00,81.80 651.50,83.10" fill="none" stroke="#ffe800" stroke-width="3.20" stroke-linecap="round" stroke-linejoin="round"/><polyline points="633.00,80.70 642.00,81.80 651.50,83.10" fill="none" stroke="#ff9000" stroke-width="2.60" stroke-linecap="round" stroke-linejoin="round"/><polyline points="633.00,80.70 642.00,81.80 651.50,83.10" fill="none" stroke="#ff2000" stroke-width="2.00" stroke-linecap="round" stroke-linejoin="round"/><polyline points="633.00,80.70 642.00,81.80 651.50,83.10" fill="none" stroke="#c00000" stroke-width="0.40" stroke-linecap="round" stroke-linejoin="round"/>
<circle cx="651" cy="83.1" r="1.3" fill="#a00000"/>
<polyline points="666.00,84.30 670.00,84.80" fill="none" stroke="#0a50ff" stroke-width="7.00" stroke-linecap="round" stroke-linejoin="round"/><polyline points="666.00,84.30 670.00,84.80" fill="none" stroke="#00c0ff" stroke-width="6.10" stroke-linecap="round" stroke-linejoin="round"/><polyline points="666.00,84.30 670.00,84.80" fill="none" stroke="#40ffd0" stroke-width="5.20" stroke-linecap="round" stroke-linejoin="round"/><polyline points="666.00,84.30 670.00,84.80" fill="none" stroke="#c0ff40" stroke-width="4.30" stroke-linecap="round" stroke-linejoin="round"/><polyline points="666.00,84.30 670.00,84.80" fill="none" stroke="#ffe800" stroke-width="3.60" stroke-linecap="round" stroke-linejoin="round"/><polyline points="666.00,84.30 670.00,84.80" fill="none" stroke="#ff9000" stroke-width="3.00" stroke-linecap="round" stroke-linejoin="round"/><polyline points="666.00,84.30 670.00,84.80" fill="none" stroke="#ff2000" stroke-width="2.40" stroke-linecap="round" stroke-linejoin="round"/><polyline points="666.00,84.30 670.00,84.80" fill="none" stroke="#c00000" stroke-width="0.80" stroke-linecap="round" stroke-linejoin="round"/>
<circle cx="667" cy="84.6" r="1.2" fill="#a00000"/>
</g></g>
<text x="673.3" y="80.8" font-size="10.2" font-weight="bold" fill="#f01010" font-family="&quot;Liberation Sans&quot;, sans-serif">(1)</text>
<clipPath id="cf1"><rect x="512" y="194" width="156" height="32.6"/></clipPath>
<g clip-path="url(#cf1)">
<rect x="512" y="194" width="156" height="32.6" fill="#0206da"/>
<g filter="url(#bl)">
<polyline points="508.00,201.47 526.00,203.42 527.00,203.23 580.00,209.47 582.00,209.49 672.00,219.24" fill="none" stroke="#1050ff" stroke-width="3.80" stroke-linecap="round" stroke-linejoin="round"/><polyline points="508.00,201.47 526.00,203.42 527.00,203.23 580.00,209.47 582.00,209.49 672.00,219.24" fill="none" stroke="#10c8ff" stroke-width="3.00" stroke-linecap="round" stroke-linejoin="round"/><polyline points="508.00,201.47 526.00,203.42 527.00,203.23 580.00,209.47 582.00,209.49 672.00,219.24" fill="none" stroke="#40f0e0" stroke-width="2.20" stroke-linecap="round" stroke-linejoin="round"/><polyline points="508.00,201.47 526.00,203.42 527.00,203.23 580.00,209.47 582.00,209.49 672.00,219.24" fill="none" stroke="#b0ff60" stroke-width="1.40" stroke-linecap="round" stroke-linejoin="round"/><polyline points="508.00,201.47 526.00,203.42 527.00,203.23 580.00,209.47 582.00,209.49 672.00,219.24" fill="none" stroke="#f0f040" stroke-width="0.60" stroke-linecap="round" stroke-linejoin="round"/>
<polyline points="527.00,203.13 540.00,204.04 560.00,206.30 580.00,208.97" fill="none" stroke="#20c0ff" stroke-width="3.80" stroke-linecap="round" stroke-linejoin="round"/><polyline points="527.00,203.13 540.00,204.04 560.00,206.30 580.00,208.97" fill="none" stroke="#40f0c0" stroke-width="2.60" stroke-linecap="round" stroke-linejoin="round"/><polyline points="527.00,203.13 540.00,204.04 560.00,206.30 580.00,208.97" fill="none" stroke="#c0ff40" stroke-width="1.40" stroke-linecap="round" stroke-linejoin="round"/>
<polyline points="527.00,203.93 540.00,205.94 560.00,208.10 580.00,209.97" fill="none" stroke="#20c0ff" stroke-width="3.80" stroke-linecap="round" stroke-linejoin="round"/><polyline points="527.00,203.93 540.00,205.94 560.00,208.10 580.00,209.97" fill="none" stroke="#40f0c0" stroke-width="2.60" stroke-linecap="round" stroke-linejoin="round"/><polyline points="527.00,203.93 540.00,205.94 560.00,208.10 580.00,209.97" fill="none" stroke="#c0ff40" stroke-width="1.40" stroke-linecap="round" stroke-linejoin="round"/>
<line x1="529" y1="203.94" x2="538" y2="204.92" stroke="#ff5a00" stroke-width="1.2" stroke-linecap="round" opacity="0.9"/>
<line x1="548" y1="206.00" x2="557" y2="206.98" stroke="#ff5a00" stroke-width="1.2" stroke-linecap="round" opacity="0.9"/>
<line x1="561" y1="207.41" x2="571" y2="208.50" stroke="#ff5a00" stroke-width="1.2" stroke-linecap="round" opacity="0.9"/>
<line x1="575" y1="208.93" x2="581" y2="209.58" stroke="#ff5a00" stroke-width="1.2" stroke-linecap="round" opacity="0.9"/>
<line x1="594" y1="210.99" x2="606" y2="212.29" stroke="#ff5a00" stroke-width="1.2" stroke-linecap="round" opacity="0.9"/>
<line x1="611" y1="212.83" x2="620" y2="213.81" stroke="#ff5a00" stroke-width="1.2" stroke-linecap="round" opacity="0.9"/>
<line x1="625" y1="214.35" x2="640" y2="215.98" stroke="#ff5a00" stroke-width="1.2" stroke-linecap="round" opacity="0.9"/>
<line x1="645" y1="216.52" x2="656" y2="217.71" stroke="#ff5a00" stroke-width="1.2" stroke-linecap="round" opacity="0.9"/>
<line x1="660" y1="218.14" x2="668" y2="219.01" stroke="#ff5a00" stroke-width="1.2" stroke-linecap="round" opacity="0.9"/>
<line x1="582" y1="209.49" x2="585" y2="209.81" stroke="#20a0ff" stroke-width="2.6"/>
</g></g>
<text x="672.3" y="213.8" font-size="10.2" font-weight="bold" fill="#5548f0" font-family="&quot;Liberation Sans&quot;, sans-serif">(1)</text>
<clipPath id="cf2"><rect x="512" y="242" width="156" height="32.6"/></clipPath>
<g clip-path="url(#cf2)">
<rect x="512" y="242" width="156" height="32.6" fill="#0206da"/>
<g filter="url(#bl)">
<polyline points="508.00,249.16 525.00,250.64 537.00,252.28 552.00,254.34 583.00,257.48" fill="none" stroke="#0a50ff" stroke-width="5.90" stroke-linecap="round" stroke-linejoin="round"/><polyline points="508.00,249.16 525.00,250.64 537.00,252.28 552.00,254.34 583.00,257.48" fill="none" stroke="#00c0ff" stroke-width="5.20" stroke-linecap="round" stroke-linejoin="round"/><polyline points="508.00,249.16 525.00,250.64 537.00,252.28 552.00,254.34 583.00,257.48" fill="none" stroke="#40ffd0" stroke-width="4.50" stroke-linecap="round" stroke-linejoin="round"/><polyline points="508.00,249.16 525.00,250.64 537.00,252.28 552.00,254.34 583.00,257.48" fill="none" stroke="#c0ff40" stroke-width="3.94" stroke-linecap="round" stroke-linejoin="round"/><polyline points="508.00,249.16 525.00,250.64 537.00,252.28 552.00,254.34 583.00,257.48" fill="none" stroke="#ffe800" stroke-width="3.40" stroke-linecap="round" stroke-linejoin="round"/><polyline points="508.00,249.16 525.00,250.64 537.00,252.28 552.00,254.34 583.00,257.48" fill="none" stroke="#ff9000" stroke-width="2.94" stroke-linecap="round" stroke-linejoin="round"/><polyline points="508.00,249.16 525.00,250.64 537.00,252.28 552.00,254.34 583.00,257.48" fill="none" stroke="#e81000" stroke-width="2.50" stroke-linecap="round" stroke-linejoin="round"/><polyline points="508.00,249.16 525.00,250.64 537.00,252.28 552.00,254.34 583.00,257.48" fill="none" stroke="#a80000" stroke-width="1.00" stroke-linecap="round" stroke-linejoin="round"/>
<polyline points="585.50,258.46 600.00,259.77 630.00,263.10 672.00,267.56" fill="none" stroke="#0a50ff" stroke-width="5.90" stroke-linecap="round" stroke-linejoin="round"/><polyline points="585.50,258.46 600.00,259.77 630.00,263.10 672.00,267.56" fill="none" stroke="#00c0ff" stroke-width="5.20" stroke-linecap="round" stroke-linejoin="round"/><polyline points="585.50,258.46 600.00,259.77 630.00,263.10 672.00,267.56" fill="none" stroke="#40ffd0" stroke-width="4.50" stroke-linecap="round" stroke-linejoin="round"/><polyline points="585.50,258.46 600.00,259.77 630.00,263.10 672.00,267.56" fill="none" stroke="#c0ff40" stroke-width="3.94" stroke-linecap="round" stroke-linejoin="round"/><polyline points="585.50,258.46 600.00,259.77 630.00,263.10 672.00,267.56" fill="none" stroke="#ffe800" stroke-width="3.40" stroke-linecap="round" stroke-linejoin="round"/><polyline points="585.50,258.46 600.00,259.77 630.00,263.10 672.00,267.56" fill="none" stroke="#ff9000" stroke-width="2.94" stroke-linecap="round" stroke-linejoin="round"/><polyline points="585.50,258.46 600.00,259.77 630.00,263.10 672.00,267.56" fill="none" stroke="#e81000" stroke-width="2.50" stroke-linecap="round" stroke-linejoin="round"/><polyline points="585.50,258.46 600.00,259.77 630.00,263.10 672.00,267.56" fill="none" stroke="#a80000" stroke-width="1.00" stroke-linecap="round" stroke-linejoin="round"/>
<ellipse cx="584.5" cy="258.05" rx="1.2" ry="1.1" fill="#e8e050" opacity="0.8"/>
</g></g>
<text x="672.1" y="261.8" font-size="10.2" font-weight="bold" fill="#5548f0" font-family="&quot;Liberation Sans&quot;, sans-serif">(2)</text>
<clipPath id="cf3"><rect x="512" y="290" width="156" height="32.6"/></clipPath>
<g clip-path="url(#cf3)">
<rect x="512" y="290" width="156" height="32.6" fill="#0206da"/>
<g filter="url(#bl)">
<circle cx="513.9" cy="297.90" r="3.7" fill="#0a50ff"/>
<circle cx="520.4" cy="298.60" r="3.7" fill="#0a50ff"/>
<circle cx="530.7" cy="300.10" r="3.7" fill="#0a50ff"/>
<circle cx="538.7" cy="300.80" r="3.7" fill="#0a50ff"/>
<circle cx="548.2" cy="302.00" r="3.7" fill="#0a50ff"/>
<circle cx="552.6" cy="302.30" r="3.7" fill="#0a50ff"/>
<circle cx="561.3" cy="303.40" r="3.7" fill="#0a50ff"/>
<circle cx="567.2" cy="304.00" r="3.7" fill="#0a50ff"/>
<circle cx="575.9" cy="305.20" r="3.7" fill="#0a50ff"/>
<circle cx="583.2" cy="305.50" r="3.7" fill="#0a50ff"/>
<circle cx="592" cy="306.70" r="3.7" fill="#0a50ff"/>
<circle cx="600.1" cy="307.80" r="3.7" fill="#0a50ff"/>
<circle cx="609.5" cy="308.90" r="3.7" fill="#0a50ff"/>
<circle cx="616.7" cy="309.50" r="3.7" fill="#0a50ff"/>
<circle cx="623.1" cy="310.20" r="3.7" fill="#0a50ff"/>
<circle cx="628.2" cy="310.70" r="3.7" fill="#0a50ff"/>
<circle cx="636.8" cy="312.10" r="3.7" fill="#0a50ff"/>
<circle cx="643.3" cy="312.80" r="3.7" fill="#0a50ff"/>
<circle cx="652.7" cy="313.80" r="3.7" fill="#0a50ff"/>
<circle cx="659.2" cy="314.30" r="3.7" fill="#0a50ff"/>
<circle cx="664.9" cy="315.00" r="3.7" fill="#0a50ff"/>
<line x1="508" y1="297.16" x2="672" y2="315.20" stroke="#0a50ff" stroke-width="6.4"/>
<circle cx="513.9" cy="297.90" r="3.3" fill="#00c0ff"/>
<circle cx="520.4" cy="298.60" r="3.3" fill="#00c0ff"/>
<circle cx="530.7" cy="300.10" r="3.3" fill="#00c0ff"/>
<circle cx="538.7" cy="300.80" r="3.3" fill="#00c0ff"/>
<circle cx="548.2" cy="302.00" r="3.3" fill="#00c0ff"/>
<circle cx="552.6" cy="302.30" r="3.3" fill="#00c0ff"/>
<circle cx="561.3" cy="303.40" r="3.3" fill="#00c0ff"/>
<circle cx="567.2" cy="304.00" r="3.3" fill="#00c0ff"/>
<circle cx="575.9" cy="305.20" r="3.3" fill="#00c0ff"/>
<circle cx="583.2" cy="305.50" r="3.3" fill="#00c0ff"/>
<circle cx="592" cy="306.70" r="3.3" fill="#00c0ff"/>
<circle cx="600.1" cy="307.80" r="3.3" fill="#00c0ff"/>
<circle cx="609.5" cy="308.90" r="3.3" fill="#00c0ff"/>
<circle cx="616.7" cy="309.50" r="3.3" fill="#00c0ff"/>
<circle cx="623.1" cy="310.20" r="3.3" fill="#00c0ff"/>
<circle cx="628.2" cy="310.70" r="3.3" fill="#00c0ff"/>
<circle cx="636.8" cy="312.10" r="3.3" fill="#00c0ff"/>
<circle cx="643.3" cy="312.80" r="3.3" fill="#00c0ff"/>
<circle cx="652.7" cy="313.80" r="3.3" fill="#00c0ff"/>
<circle cx="659.2" cy="314.30" r="3.3" fill="#00c0ff"/>
<circle cx="664.9" cy="315.00" r="3.3" fill="#00c0ff"/>
<line x1="508" y1="297.16" x2="672" y2="315.20" stroke="#00c0ff" stroke-width="5.6"/>
<circle cx="513.9" cy="297.90" r="2.9" fill="#50ffc0"/>
<circle cx="520.4" cy="298.60" r="2.9" fill="#50ffc0"/>
<circle cx="530.7" cy="300.10" r="2.9" fill="#50ffc0"/>
<circle cx="538.7" cy="300.80" r="2.9" fill="#50ffc0"/>
<circle cx="548.2" cy="302.00" r="2.9" fill="#50ffc0"/>
<circle cx="552.6" cy="302.30" r="2.9" fill="#50ffc0"/>
<circle cx="561.3" cy="303.40" r="2.9" fill="#50ffc0"/>
<circle cx="567.2" cy="304.00" r="2.9" fill="#50ffc0"/>
<circle cx="575.9" cy="305.20" r="2.9" fill="#50ffc0"/>
<circle cx="583.2" cy="305.50" r="2.9" fill="#50ffc0"/>
<circle cx="592" cy="306.70" r="2.9" fill="#50ffc0"/>
<circle cx="600.1" cy="307.80" r="2.9" fill="#50ffc0"/>
<circle cx="609.5" cy="308.90" r="2.9" fill="#50ffc0"/>
<circle cx="616.7" cy="309.50" r="2.9" fill="#50ffc0"/>
<circle cx="623.1" cy="310.20" r="2.9" fill="#50ffc0"/>
<circle cx="628.2" cy="310.70" r="2.9" fill="#50ffc0"/>
<circle cx="636.8" cy="312.10" r="2.9" fill="#50ffc0"/>
<circle cx="643.3" cy="312.80" r="2.9" fill="#50ffc0"/>
<circle cx="652.7" cy="313.80" r="2.9" fill="#50ffc0"/>
<circle cx="659.2" cy="314.30" r="2.9" fill="#50ffc0"/>
<circle cx="664.9" cy="315.00" r="2.9" fill="#50ffc0"/>
<line x1="508" y1="297.16" x2="672" y2="315.20" stroke="#50ffc0" stroke-width="4.7"/>
<line x1="508" y1="297.16" x2="672" y2="315.20" stroke="#c0ff40" stroke-width="3.9"/>
<circle cx="513.9" cy="297.90" r="2.6" fill="#ffe000"/>
<circle cx="520.4" cy="298.60" r="2.6" fill="#ffe000"/>
<circle cx="530.7" cy="300.10" r="2.6" fill="#ffe000"/>
<circle cx="538.7" cy="300.80" r="2.6" fill="#ffe000"/>
<circle cx="548.2" cy="302.00" r="2.6" fill="#ffe000"/>
<circle cx="552.6" cy="302.30" r="2.6" fill="#ffe000"/>
<circle cx="561.3" cy="303.40" r="2.6" fill="#ffe000"/>
<circle cx="567.2" cy="304.00" r="2.6" fill="#ffe000"/>
<circle cx="575.9" cy="305.20" r="2.6" fill="#ffe000"/>
<circle cx="583.2" cy="305.50" r="2.6" fill="#ffe000"/>
<circle cx="592" cy="306.70" r="2.6" fill="#ffe000"/>
<circle cx="600.1" cy="307.80" r="2.6" fill="#ffe000"/>
<circle cx="609.5" cy="308.90" r="2.6" fill="#ffe000"/>
<circle cx="616.7" cy="309.50" r="2.6" fill="#ffe000"/>
<circle cx="623.1" cy="310.20" r="2.6" fill="#ffe000"/>
<circle cx="628.2" cy="310.70" r="2.6" fill="#ffe000"/>
<circle cx="636.8" cy="312.10" r="2.6" fill="#ffe000"/>
<circle cx="643.3" cy="312.80" r="2.6" fill="#ffe000"/>
<circle cx="652.7" cy="313.80" r="2.6" fill="#ffe000"/>
<circle cx="659.2" cy="314.30" r="2.6" fill="#ffe000"/>
<circle cx="664.9" cy="315.00" r="2.6" fill="#ffe000"/>
<line x1="508" y1="297.16" x2="672" y2="315.20" stroke="#ffe000" stroke-width="3.2"/>
<line x1="508" y1="297.16" x2="672" y2="315.20" stroke="#ff9000" stroke-width="2.6"/>
<line x1="508" y1="297.16" x2="672" y2="315.20" stroke="#ee1000" stroke-width="2.0"/>
<ellipse cx="517.2" cy="298.47" rx="1.5" ry="1.6" fill="#e8f040"/>
<ellipse cx="544.5" cy="301.48" rx="1.5" ry="1.6" fill="#e8f040"/>
<ellipse cx="571.5" cy="304.45" rx="1.5" ry="1.6" fill="#e8f040"/>
<ellipse cx="587.5" cy="306.21" rx="1.5" ry="1.6" fill="#e8f040"/>
<ellipse cx="596.5" cy="307.20" rx="1.5" ry="1.6" fill="#e8f040"/>
<ellipse cx="633.0" cy="311.21" rx="1.5" ry="1.6" fill="#e8f040"/>
<ellipse cx="648.5" cy="312.92" rx="1.5" ry="1.6" fill="#e8f040"/>
<circle cx="513.9" cy="297.90" r="2.3" fill="#e81000"/>
<circle cx="520.4" cy="298.60" r="2.3" fill="#e81000"/>
<circle cx="530.7" cy="300.10" r="2.3" fill="#e81000"/>
<circle cx="538.7" cy="300.80" r="2.3" fill="#e81000"/>
<circle cx="548.2" cy="302.00" r="2.3" fill="#e81000"/>
<circle cx="552.6" cy="302.30" r="2.3" fill="#e81000"/>
<circle cx="561.3" cy="303.40" r="2.3" fill="#e81000"/>
<circle cx="567.2" cy="304.00" r="2.3" fill="#e81000"/>
<circle cx="575.9" cy="305.20" r="2.3" fill="#e81000"/>
<circle cx="583.2" cy="305.50" r="2.3" fill="#e81000"/>
<circle cx="592" cy="306.70" r="2.3" fill="#e81000"/>
<circle cx="600.1" cy="307.80" r="2.3" fill="#e81000"/>
<circle cx="609.5" cy="308.90" r="2.3" fill="#e81000"/>
<circle cx="616.7" cy="309.50" r="2.3" fill="#e81000"/>
<circle cx="623.1" cy="310.20" r="2.3" fill="#e81000"/>
<circle cx="628.2" cy="310.70" r="2.3" fill="#e81000"/>
<circle cx="636.8" cy="312.10" r="2.3" fill="#e81000"/>
<circle cx="643.3" cy="312.80" r="2.3" fill="#e81000"/>
<circle cx="652.7" cy="313.80" r="2.3" fill="#e81000"/>
<circle cx="659.2" cy="314.30" r="2.3" fill="#e81000"/>
<circle cx="664.9" cy="315.00" r="2.3" fill="#e81000"/>
<circle cx="513.9" cy="297.90" r="1.8" fill="#a80000"/>
<circle cx="520.4" cy="298.60" r="1.8" fill="#a80000"/>
<circle cx="530.7" cy="300.10" r="1.8" fill="#a80000"/>
<circle cx="538.7" cy="300.80" r="1.8" fill="#a80000"/>
<circle cx="548.2" cy="302.00" r="1.8" fill="#a80000"/>
<circle cx="552.6" cy="302.30" r="1.8" fill="#a80000"/>
<circle cx="561.3" cy="303.40" r="1.8" fill="#a80000"/>
<circle cx="567.2" cy="304.00" r="1.8" fill="#a80000"/>
<circle cx="575.9" cy="305.20" r="1.8" fill="#a80000"/>
<circle cx="583.2" cy="305.50" r="1.8" fill="#a80000"/>
<circle cx="592" cy="306.70" r="1.8" fill="#a80000"/>
<circle cx="600.1" cy="307.80" r="1.8" fill="#a80000"/>
<circle cx="609.5" cy="308.90" r="1.8" fill="#a80000"/>
<circle cx="616.7" cy="309.50" r="1.8" fill="#a80000"/>
<circle cx="623.1" cy="310.20" r="1.8" fill="#a80000"/>
<circle cx="628.2" cy="310.70" r="1.8" fill="#a80000"/>
<circle cx="636.8" cy="312.10" r="1.8" fill="#a80000"/>
<circle cx="643.3" cy="312.80" r="1.8" fill="#a80000"/>
<circle cx="652.7" cy="313.80" r="1.8" fill="#a80000"/>
<circle cx="659.2" cy="314.30" r="1.8" fill="#a80000"/>
<circle cx="664.9" cy="315.00" r="1.8" fill="#a80000"/>
</g></g>
<text x="672.3" y="310.5" font-size="10.2" font-weight="bold" fill="#5548f0" font-family="&quot;Liberation Sans&quot;, sans-serif">(3)</text>
</svg></body></html>
